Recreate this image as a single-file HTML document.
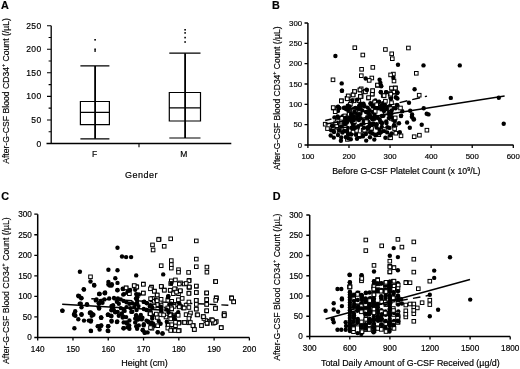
<!DOCTYPE html>
<html><head><meta charset="utf-8"><style>
html,body{margin:0;padding:0;background:#fff;}
svg{display:block;filter:grayscale(1);}
</style></head><body>
<svg width="520" height="369" viewBox="0 0 520 369">
<text x="1.1" y="8.8" font-size="10.8" font-weight="bold" font-family="'Liberation Sans', sans-serif" stroke="#000" stroke-width="0.18">A</text>
<path d="M51.2 25.7 V143.5 M46.5 143.5 H231.3" stroke="#000" stroke-width="1.3" fill="none"/>
<path d="M47 143.50 H51.2 M47 119.94 H51.2 M47 96.38 H51.2 M47 72.82 H51.2 M47 49.26 H51.2 M47 25.70 H51.2 M48.6 131.72 H51.2 M48.6 108.16 H51.2 M48.6 84.60 H51.2 M48.6 61.04 H51.2 M48.6 37.48 H51.2 M139 143.5 V147.2 " stroke="#000" stroke-width="1.1" fill="none"/>
<text x="41.6" y="146.60" font-size="8.5" letter-spacing="0.4" text-anchor="end" font-family="'Liberation Sans', sans-serif" stroke="#000" stroke-width="0.18" fill="#000">0</text>
<text x="41.6" y="123.04" font-size="8.5" letter-spacing="0.4" text-anchor="end" font-family="'Liberation Sans', sans-serif" stroke="#000" stroke-width="0.18" fill="#000">50</text>
<text x="41.6" y="99.48" font-size="8.5" letter-spacing="0.4" text-anchor="end" font-family="'Liberation Sans', sans-serif" stroke="#000" stroke-width="0.18" fill="#000">100</text>
<text x="41.6" y="75.92" font-size="8.5" letter-spacing="0.4" text-anchor="end" font-family="'Liberation Sans', sans-serif" stroke="#000" stroke-width="0.18" fill="#000">150</text>
<text x="41.6" y="52.36" font-size="8.5" letter-spacing="0.4" text-anchor="end" font-family="'Liberation Sans', sans-serif" stroke="#000" stroke-width="0.18" fill="#000">200</text>
<text x="41.6" y="28.80" font-size="8.5" letter-spacing="0.4" text-anchor="end" font-family="'Liberation Sans', sans-serif" stroke="#000" stroke-width="0.18" fill="#000">250</text>
<text x="94.5" y="156.8" font-size="8.5" text-anchor="middle" font-family="'Liberation Sans', sans-serif" stroke="#000" stroke-width="0.18" fill="#000">F</text>
<text x="183.8" y="156.8" font-size="8.5" text-anchor="middle" font-family="'Liberation Sans', sans-serif" stroke="#000" stroke-width="0.18" fill="#000">M</text>
<text x="141.5" y="177.6" font-size="9" letter-spacing="0.5" text-anchor="middle" font-family="'Liberation Sans', sans-serif" stroke="#000" stroke-width="0.18" fill="#000">Gender</text>
<path d="M80.4 101.5 H109.4 V124.6 H80.4 Z M80.4 112.4 H109.4 M80.4 138.8 H109.4 M80.4 65.9 H109.4" stroke="#000" stroke-width="1.2" fill="none"/>
<path d="M95.1 65.9 V138.8" stroke="#000" stroke-width="1.8" fill="none"/>
<rect x="94.3" y="39.0" width="1.6" height="1.6" fill="#000"/>
<rect x="94.3" y="48.5" width="1.6" height="1.6" fill="#000"/>
<rect x="94.3" y="50.2" width="1.6" height="1.6" fill="#000"/>
<path d="M169.3 92.5 H200.5 V121.0 H169.3 Z M169.3 107.8 H200.5 M169.3 138.0 H200.5 M169.3 53.2 H200.5" stroke="#000" stroke-width="1.2" fill="none"/>
<path d="M185.1 53.2 V138.0" stroke="#000" stroke-width="1.8" fill="none"/>
<rect x="184.29999999999998" y="29.0" width="1.6" height="1.6" fill="#000"/>
<rect x="184.29999999999998" y="32.1" width="1.6" height="1.6" fill="#000"/>
<rect x="184.29999999999998" y="36.800000000000004" width="1.6" height="1.6" fill="#000"/>
<rect x="184.29999999999998" y="41.2" width="1.6" height="1.6" fill="#000"/>
<text transform="translate(8.5 91.0) rotate(-90)" font-size="8.65" text-anchor="middle" font-family="'Liberation Sans', sans-serif" stroke="#000" stroke-width="0.18" fill="#000">After-G-CSF Blood CD34<tspan font-size="5.36" dy="-3.29">+</tspan><tspan dy="3.29"> Count (/µL)</tspan></text>
<text x="272" y="9" font-size="10.8" font-weight="bold" font-family="'Liberation Sans', sans-serif" stroke="#000" stroke-width="0.18">B</text>
<path d="M307.9 23 V145.0 H513.5" stroke="#000" stroke-width="1.5" fill="none"/>
<path d="M304.5 145.00 H307.9 M304.5 124.67 H307.9 M304.5 104.33 H307.9 M304.5 84.00 H307.9 M304.5 63.67 H307.9 M304.5 43.33 H307.9 M304.5 23.00 H307.9 M307.90 145.0 V148.0 M348.98 145.0 V148.0 M390.06 145.0 V148.0 M431.14 145.0 V148.0 M472.22 145.0 V148.0 M513.30 145.0 V148.0 " stroke="#000" stroke-width="1.3" fill="none"/>
<text x="302.09999999999997" y="147.80" font-size="7.8" text-anchor="end" font-family="'Liberation Sans', sans-serif" stroke="#000" stroke-width="0.18" fill="#000">0</text>
<text x="302.09999999999997" y="127.47" font-size="7.8" text-anchor="end" font-family="'Liberation Sans', sans-serif" stroke="#000" stroke-width="0.18" fill="#000">50</text>
<text x="302.09999999999997" y="107.13" font-size="7.8" text-anchor="end" font-family="'Liberation Sans', sans-serif" stroke="#000" stroke-width="0.18" fill="#000">100</text>
<text x="302.09999999999997" y="86.80" font-size="7.8" text-anchor="end" font-family="'Liberation Sans', sans-serif" stroke="#000" stroke-width="0.18" fill="#000">150</text>
<text x="302.09999999999997" y="66.47" font-size="7.8" text-anchor="end" font-family="'Liberation Sans', sans-serif" stroke="#000" stroke-width="0.18" fill="#000">200</text>
<text x="302.09999999999997" y="46.13" font-size="7.8" text-anchor="end" font-family="'Liberation Sans', sans-serif" stroke="#000" stroke-width="0.18" fill="#000">250</text>
<text x="302.09999999999997" y="25.80" font-size="7.8" text-anchor="end" font-family="'Liberation Sans', sans-serif" stroke="#000" stroke-width="0.18" fill="#000">300</text>
<text x="307.90" y="159.20" font-size="7.8" text-anchor="middle" font-family="'Liberation Sans', sans-serif" stroke="#000" stroke-width="0.18" fill="#000">100</text>
<text x="348.98" y="159.20" font-size="7.8" text-anchor="middle" font-family="'Liberation Sans', sans-serif" stroke="#000" stroke-width="0.18" fill="#000">200</text>
<text x="390.06" y="159.20" font-size="7.8" text-anchor="middle" font-family="'Liberation Sans', sans-serif" stroke="#000" stroke-width="0.18" fill="#000">300</text>
<text x="431.14" y="159.20" font-size="7.8" text-anchor="middle" font-family="'Liberation Sans', sans-serif" stroke="#000" stroke-width="0.18" fill="#000">400</text>
<text x="472.22" y="159.20" font-size="7.8" text-anchor="middle" font-family="'Liberation Sans', sans-serif" stroke="#000" stroke-width="0.18" fill="#000">500</text>
<text x="513.30" y="159.20" font-size="7.8" text-anchor="middle" font-family="'Liberation Sans', sans-serif" stroke="#000" stroke-width="0.18" fill="#000">600</text>
<text x="332.2" y="173.6" font-size="8.78" font-family="'Liberation Sans', sans-serif" stroke="#000" stroke-width="0.18" fill="#000">Before G-CSF Platelet Count (x 10<tspan font-size="5.5" dy="-3">9</tspan><tspan dy="3">/L)</tspan></text>
<text transform="translate(279.7 98.3) rotate(-90)" font-size="8.5" text-anchor="middle" font-family="'Liberation Sans', sans-serif" stroke="#000" stroke-width="0.18" fill="#000">After-G-CSF Blood CD34<tspan font-size="5.27" dy="-3.23">+</tspan><tspan dy="3.23"> Count (/µL)</tspan></text>
<path d="M325.2 120.5 L427 96.1" stroke="#000" stroke-width="1.4" stroke-dasharray="8 5" stroke-dashoffset="1.5" fill="none"/>
<circle cx="390.8" cy="98.8" r="2.2"/>
<rect x="417.40" y="93.40" width="3.6" height="3.6" fill="#fff" stroke="#000" stroke-width="1.0"/>
<rect x="361.40" y="128.50" width="3.6" height="3.6" fill="#fff" stroke="#000" stroke-width="1.0"/>
<circle cx="421.7" cy="124.8" r="2.2"/>
<circle cx="350.8" cy="139.2" r="2.2"/>
<circle cx="374.8" cy="107.0" r="2.2"/>
<rect x="389.90" y="52.00" width="3.6" height="3.6" fill="#fff" stroke="#000" stroke-width="1.0"/>
<rect x="377.00" y="132.90" width="3.6" height="3.6" fill="#fff" stroke="#000" stroke-width="1.0"/>
<circle cx="393.8" cy="126.3" r="2.2"/>
<rect x="344.80" y="106.60" width="3.6" height="3.6" fill="#fff" stroke="#000" stroke-width="1.0"/>
<circle cx="397.4" cy="98.5" r="2.2"/>
<rect x="351.30" y="93.00" width="3.6" height="3.6" fill="#fff" stroke="#000" stroke-width="1.0"/>
<circle cx="376.7" cy="105.8" r="2.2"/>
<rect x="391.30" y="117.40" width="3.6" height="3.6" fill="#fff" stroke="#000" stroke-width="1.0"/>
<circle cx="334.4" cy="117.4" r="2.2"/>
<circle cx="378.0" cy="108.3" r="2.2"/>
<circle cx="393.8" cy="108.1" r="2.2"/>
<circle cx="344.0" cy="121.4" r="2.2"/>
<circle cx="358.3" cy="126.1" r="2.2"/>
<rect x="347.30" y="112.60" width="3.6" height="3.6" fill="#fff" stroke="#000" stroke-width="1.0"/>
<circle cx="371.7" cy="129.4" r="2.2"/>
<circle cx="397.4" cy="92.4" r="2.2"/>
<circle cx="356.9" cy="118.4" r="2.2"/>
<rect x="392.00" y="90.50" width="3.6" height="3.6" fill="#fff" stroke="#000" stroke-width="1.0"/>
<circle cx="378.7" cy="133.4" r="2.2"/>
<circle cx="372.9" cy="124.1" r="2.2"/>
<circle cx="349.3" cy="117.8" r="2.2"/>
<rect x="359.80" y="67.50" width="3.6" height="3.6" fill="#fff" stroke="#000" stroke-width="1.0"/>
<circle cx="394.3" cy="120.4" r="2.2"/>
<circle cx="356.5" cy="117.5" r="2.2"/>
<rect x="339.70" y="99.00" width="3.6" height="3.6" fill="#fff" stroke="#000" stroke-width="1.0"/>
<rect x="359.40" y="94.70" width="3.6" height="3.6" fill="#fff" stroke="#000" stroke-width="1.0"/>
<circle cx="356.7" cy="113.8" r="2.2"/>
<rect x="370.50" y="92.40" width="3.6" height="3.6" fill="#fff" stroke="#000" stroke-width="1.0"/>
<circle cx="386.2" cy="121.5" r="2.2"/>
<circle cx="379.5" cy="129.4" r="2.2"/>
<rect x="369.70" y="126.50" width="3.6" height="3.6" fill="#fff" stroke="#000" stroke-width="1.0"/>
<circle cx="342.5" cy="117.0" r="2.2"/>
<rect x="392.00" y="90.00" width="3.6" height="3.6" fill="#fff" stroke="#000" stroke-width="1.0"/>
<circle cx="365.7" cy="78.5" r="2.2"/>
<circle cx="372.8" cy="112.0" r="2.2"/>
<rect x="352.00" y="99.00" width="3.6" height="3.6" fill="#fff" stroke="#000" stroke-width="1.0"/>
<circle cx="347.7" cy="105.8" r="2.2"/>
<circle cx="364.3" cy="120.6" r="2.2"/>
<rect x="387.90" y="135.90" width="3.6" height="3.6" fill="#fff" stroke="#000" stroke-width="1.0"/>
<circle cx="341.3" cy="137.5" r="2.2"/>
<circle cx="353.5" cy="110.6" r="2.2"/>
<circle cx="376.6" cy="127.6" r="2.2"/>
<circle cx="394.8" cy="120.9" r="2.2"/>
<rect x="352.50" y="89.70" width="3.6" height="3.6" fill="#fff" stroke="#000" stroke-width="1.0"/>
<circle cx="391.4" cy="114.0" r="2.2"/>
<circle cx="353.1" cy="127.7" r="2.2"/>
<circle cx="360.4" cy="113.8" r="2.2"/>
<circle cx="393.8" cy="118.9" r="2.2"/>
<circle cx="376.8" cy="105.3" r="2.2"/>
<rect x="388.80" y="136.00" width="3.6" height="3.6" fill="#fff" stroke="#000" stroke-width="1.0"/>
<circle cx="344.1" cy="108.0" r="2.2"/>
<rect x="352.80" y="89.70" width="3.6" height="3.6" fill="#fff" stroke="#000" stroke-width="1.0"/>
<rect x="358.60" y="94.60" width="3.6" height="3.6" fill="#fff" stroke="#000" stroke-width="1.0"/>
<rect x="391.60" y="72.30" width="3.6" height="3.6" fill="#fff" stroke="#000" stroke-width="1.0"/>
<circle cx="338.0" cy="106.8" r="2.2"/>
<rect x="357.00" y="99.00" width="3.6" height="3.6" fill="#fff" stroke="#000" stroke-width="1.0"/>
<circle cx="341.9" cy="90.8" r="2.2"/>
<circle cx="498.8" cy="97.8" r="2.2"/>
<circle cx="381.1" cy="132.1" r="2.2"/>
<rect x="343.20" y="123.40" width="3.6" height="3.6" fill="#fff" stroke="#000" stroke-width="1.0"/>
<circle cx="347.7" cy="128.0" r="2.2"/>
<circle cx="348.2" cy="119.7" r="2.2"/>
<rect x="382.00" y="94.00" width="3.6" height="3.6" fill="#fff" stroke="#000" stroke-width="1.0"/>
<circle cx="381.2" cy="85.9" r="2.2"/>
<rect x="394.00" y="131.40" width="3.6" height="3.6" fill="#fff" stroke="#000" stroke-width="1.0"/>
<circle cx="331.9" cy="125.9" r="2.2"/>
<rect x="346.30" y="94.40" width="3.6" height="3.6" fill="#fff" stroke="#000" stroke-width="1.0"/>
<circle cx="354.0" cy="123.2" r="2.2"/>
<rect x="358.20" y="88.20" width="3.6" height="3.6" fill="#fff" stroke="#000" stroke-width="1.0"/>
<circle cx="344.5" cy="124.3" r="2.2"/>
<circle cx="342.5" cy="116.5" r="2.2"/>
<rect x="389.70" y="100.90" width="3.6" height="3.6" fill="#fff" stroke="#000" stroke-width="1.0"/>
<circle cx="401.1" cy="115.6" r="2.2"/>
<rect x="392.80" y="126.80" width="3.6" height="3.6" fill="#fff" stroke="#000" stroke-width="1.0"/>
<circle cx="389.5" cy="115.2" r="2.2"/>
<circle cx="375.4" cy="100.4" r="2.2"/>
<circle cx="355.9" cy="134.7" r="2.2"/>
<circle cx="379.0" cy="101.7" r="2.2"/>
<circle cx="386.2" cy="92.3" r="2.2"/>
<rect x="347.20" y="108.60" width="3.6" height="3.6" fill="#fff" stroke="#000" stroke-width="1.0"/>
<circle cx="360.0" cy="136.7" r="2.2"/>
<circle cx="352.3" cy="128.1" r="2.2"/>
<circle cx="450.8" cy="97.9" r="2.2"/>
<circle cx="351.5" cy="114.6" r="2.2"/>
<circle cx="399.0" cy="123.3" r="2.2"/>
<circle cx="367.2" cy="120.1" r="2.2"/>
<circle cx="373.5" cy="123.5" r="2.2"/>
<circle cx="395.6" cy="108.3" r="2.2"/>
<circle cx="339.6" cy="108.1" r="2.2"/>
<rect x="375.50" y="83.60" width="3.6" height="3.6" fill="#fff" stroke="#000" stroke-width="1.0"/>
<rect x="389.40" y="116.60" width="3.6" height="3.6" fill="#fff" stroke="#000" stroke-width="1.0"/>
<circle cx="388.1" cy="112.7" r="2.2"/>
<rect x="370.40" y="92.20" width="3.6" height="3.6" fill="#fff" stroke="#000" stroke-width="1.0"/>
<rect x="388.80" y="94.20" width="3.6" height="3.6" fill="#fff" stroke="#000" stroke-width="1.0"/>
<circle cx="394.9" cy="125.3" r="2.2"/>
<circle cx="383.7" cy="107.6" r="2.2"/>
<circle cx="345.6" cy="120.9" r="2.2"/>
<circle cx="363.5" cy="103.7" r="2.2"/>
<circle cx="380.8" cy="92.0" r="2.2"/>
<circle cx="362.3" cy="110.4" r="2.2"/>
<circle cx="351.3" cy="113.4" r="2.2"/>
<circle cx="384.7" cy="105.7" r="2.2"/>
<circle cx="356.5" cy="118.5" r="2.2"/>
<circle cx="333.8" cy="137.6" r="2.2"/>
<rect x="388.40" y="91.80" width="3.6" height="3.6" fill="#fff" stroke="#000" stroke-width="1.0"/>
<circle cx="361.2" cy="124.6" r="2.2"/>
<circle cx="338.9" cy="108.0" r="2.2"/>
<circle cx="369.9" cy="115.8" r="2.2"/>
<circle cx="353.0" cy="124.4" r="2.2"/>
<circle cx="358.8" cy="115.1" r="2.2"/>
<circle cx="370.1" cy="123.7" r="2.2"/>
<circle cx="338.0" cy="110.9" r="2.2"/>
<circle cx="363.4" cy="104.8" r="2.2"/>
<circle cx="379.7" cy="119.4" r="2.2"/>
<circle cx="359.1" cy="106.0" r="2.2"/>
<circle cx="342.0" cy="90.7" r="2.2"/>
<rect x="425.10" y="128.40" width="3.6" height="3.6" fill="#fff" stroke="#000" stroke-width="1.0"/>
<circle cx="364.6" cy="106.3" r="2.2"/>
<rect x="370.00" y="76.20" width="3.6" height="3.6" fill="#fff" stroke="#000" stroke-width="1.0"/>
<circle cx="351.6" cy="121.7" r="2.2"/>
<circle cx="387.4" cy="127.2" r="2.2"/>
<circle cx="363.7" cy="120.9" r="2.2"/>
<circle cx="423.5" cy="65.4" r="2.2"/>
<circle cx="370.0" cy="124.7" r="2.2"/>
<rect x="345.20" y="96.50" width="3.6" height="3.6" fill="#fff" stroke="#000" stroke-width="1.0"/>
<circle cx="383.4" cy="115.8" r="2.2"/>
<rect x="393.40" y="123.00" width="3.6" height="3.6" fill="#fff" stroke="#000" stroke-width="1.0"/>
<circle cx="393.0" cy="118.2" r="2.2"/>
<rect x="349.40" y="99.40" width="3.6" height="3.6" fill="#fff" stroke="#000" stroke-width="1.0"/>
<rect x="406.60" y="46.20" width="3.6" height="3.6" fill="#fff" stroke="#000" stroke-width="1.0"/>
<circle cx="388.3" cy="109.6" r="2.2"/>
<circle cx="338.0" cy="135.0" r="2.2"/>
<rect x="352.50" y="119.90" width="3.6" height="3.6" fill="#fff" stroke="#000" stroke-width="1.0"/>
<rect x="334.90" y="122.70" width="3.6" height="3.6" fill="#fff" stroke="#000" stroke-width="1.0"/>
<circle cx="355.5" cy="108.0" r="2.2"/>
<circle cx="357.7" cy="128.0" r="2.2"/>
<rect x="367.40" y="78.60" width="3.6" height="3.6" fill="#fff" stroke="#000" stroke-width="1.0"/>
<circle cx="330.7" cy="135.5" r="2.2"/>
<circle cx="355.4" cy="108.1" r="2.2"/>
<circle cx="352.9" cy="120.8" r="2.2"/>
<circle cx="397.2" cy="92.8" r="2.2"/>
<rect x="414.50" y="71.50" width="3.6" height="3.6" fill="#fff" stroke="#000" stroke-width="1.0"/>
<rect x="340.90" y="127.80" width="3.6" height="3.6" fill="#fff" stroke="#000" stroke-width="1.0"/>
<circle cx="386.5" cy="123.1" r="2.2"/>
<circle cx="362.3" cy="135.3" r="2.2"/>
<circle cx="370.8" cy="104.0" r="2.2"/>
<circle cx="390.0" cy="106.2" r="2.2"/>
<circle cx="391.7" cy="133.5" r="2.2"/>
<rect x="393.60" y="86.10" width="3.6" height="3.6" fill="#fff" stroke="#000" stroke-width="1.0"/>
<rect x="357.50" y="132.90" width="3.6" height="3.6" fill="#fff" stroke="#000" stroke-width="1.0"/>
<rect x="335.30" y="121.60" width="3.6" height="3.6" fill="#fff" stroke="#000" stroke-width="1.0"/>
<circle cx="386.8" cy="109.8" r="2.2"/>
<rect x="370.90" y="89.00" width="3.6" height="3.6" fill="#fff" stroke="#000" stroke-width="1.0"/>
<circle cx="409.0" cy="102.8" r="2.2"/>
<circle cx="359.8" cy="112.0" r="2.2"/>
<circle cx="376.0" cy="125.2" r="2.2"/>
<circle cx="331.1" cy="130.2" r="2.2"/>
<rect x="399.20" y="134.00" width="3.6" height="3.6" fill="#fff" stroke="#000" stroke-width="1.0"/>
<circle cx="367.5" cy="127.4" r="2.2"/>
<circle cx="342.5" cy="132.6" r="2.2"/>
<circle cx="380.3" cy="122.1" r="2.2"/>
<circle cx="388.8" cy="118.1" r="2.2"/>
<rect x="417.60" y="133.40" width="3.6" height="3.6" fill="#fff" stroke="#000" stroke-width="1.0"/>
<circle cx="358.9" cy="120.1" r="2.2"/>
<rect x="342.30" y="114.90" width="3.6" height="3.6" fill="#fff" stroke="#000" stroke-width="1.0"/>
<circle cx="361.2" cy="105.9" r="2.2"/>
<circle cx="381.0" cy="105.8" r="2.2"/>
<circle cx="348.2" cy="134.3" r="2.2"/>
<circle cx="351.5" cy="127.7" r="2.2"/>
<circle cx="354.2" cy="108.6" r="2.2"/>
<rect x="343.10" y="114.10" width="3.6" height="3.6" fill="#fff" stroke="#000" stroke-width="1.0"/>
<circle cx="381.3" cy="109.4" r="2.2"/>
<circle cx="397.3" cy="92.7" r="2.2"/>
<circle cx="353.7" cy="119.9" r="2.2"/>
<rect x="345.60" y="137.60" width="3.6" height="3.6" fill="#fff" stroke="#000" stroke-width="1.0"/>
<circle cx="340.9" cy="140.8" r="2.2"/>
<circle cx="360.5" cy="118.3" r="2.2"/>
<rect x="337.30" y="129.30" width="3.6" height="3.6" fill="#fff" stroke="#000" stroke-width="1.0"/>
<circle cx="357.3" cy="99.6" r="2.2"/>
<circle cx="379.2" cy="101.9" r="2.2"/>
<circle cx="426.7" cy="113.8" r="2.2"/>
<circle cx="367.7" cy="107.6" r="2.2"/>
<circle cx="369.6" cy="110.3" r="2.2"/>
<circle cx="372.4" cy="119.2" r="2.2"/>
<rect x="361.70" y="89.70" width="3.6" height="3.6" fill="#fff" stroke="#000" stroke-width="1.0"/>
<circle cx="376.7" cy="124.2" r="2.2"/>
<circle cx="345.8" cy="117.8" r="2.2"/>
<circle cx="352.5" cy="109.4" r="2.2"/>
<circle cx="379.6" cy="79.8" r="2.2"/>
<rect x="335.40" y="125.50" width="3.6" height="3.6" fill="#fff" stroke="#000" stroke-width="1.0"/>
<rect x="343.20" y="127.60" width="3.6" height="3.6" fill="#fff" stroke="#000" stroke-width="1.0"/>
<circle cx="357.9" cy="108.9" r="2.2"/>
<circle cx="334.8" cy="125.1" r="2.2"/>
<circle cx="414.6" cy="89.3" r="2.2"/>
<rect x="354.70" y="128.70" width="3.6" height="3.6" fill="#fff" stroke="#000" stroke-width="1.0"/>
<circle cx="413.9" cy="119.3" r="2.2"/>
<rect x="363.10" y="89.70" width="3.6" height="3.6" fill="#fff" stroke="#000" stroke-width="1.0"/>
<circle cx="387.2" cy="132.4" r="2.2"/>
<circle cx="402.3" cy="111.3" r="2.2"/>
<rect x="412.40" y="134.90" width="3.6" height="3.6" fill="#fff" stroke="#000" stroke-width="1.0"/>
<circle cx="342.2" cy="117.8" r="2.2"/>
<rect x="323.40" y="122.40" width="3.6" height="3.6" fill="#fff" stroke="#000" stroke-width="1.0"/>
<circle cx="390.6" cy="117.3" r="2.2"/>
<circle cx="366.0" cy="112.1" r="2.2"/>
<circle cx="384.8" cy="104.5" r="2.2"/>
<circle cx="367.7" cy="112.7" r="2.2"/>
<circle cx="357.0" cy="138.7" r="2.2"/>
<circle cx="354.9" cy="127.1" r="2.2"/>
<circle cx="370.0" cy="137.2" r="2.2"/>
<circle cx="373.6" cy="106.2" r="2.2"/>
<circle cx="375.8" cy="134.7" r="2.2"/>
<circle cx="368.7" cy="112.7" r="2.2"/>
<circle cx="383.0" cy="103.1" r="2.2"/>
<circle cx="360.7" cy="109.7" r="2.2"/>
<circle cx="367.0" cy="129.3" r="2.2"/>
<circle cx="374.6" cy="116.6" r="2.2"/>
<rect x="331.20" y="78.00" width="3.6" height="3.6" fill="#fff" stroke="#000" stroke-width="1.0"/>
<rect x="388.80" y="73.10" width="3.6" height="3.6" fill="#fff" stroke="#000" stroke-width="1.0"/>
<circle cx="412.1" cy="116.8" r="2.2"/>
<rect x="393.40" y="116.10" width="3.6" height="3.6" fill="#fff" stroke="#000" stroke-width="1.0"/>
<rect x="390.00" y="86.70" width="3.6" height="3.6" fill="#fff" stroke="#000" stroke-width="1.0"/>
<circle cx="366.5" cy="89.7" r="2.2"/>
<circle cx="411.9" cy="116.7" r="2.2"/>
<circle cx="348.4" cy="110.1" r="2.2"/>
<circle cx="381.8" cy="127.0" r="2.2"/>
<circle cx="374.5" cy="101.5" r="2.2"/>
<circle cx="381.7" cy="122.5" r="2.2"/>
<rect x="358.60" y="94.70" width="3.6" height="3.6" fill="#fff" stroke="#000" stroke-width="1.0"/>
<rect x="357.30" y="110.90" width="3.6" height="3.6" fill="#fff" stroke="#000" stroke-width="1.0"/>
<circle cx="373.6" cy="103.4" r="2.2"/>
<circle cx="396.3" cy="97.6" r="2.2"/>
<circle cx="354.9" cy="127.9" r="2.2"/>
<circle cx="334.0" cy="132.1" r="2.2"/>
<circle cx="381.7" cy="108.1" r="2.2"/>
<rect x="351.70" y="109.20" width="3.6" height="3.6" fill="#fff" stroke="#000" stroke-width="1.0"/>
<circle cx="398.0" cy="64.8" r="2.2"/>
<rect x="363.60" y="90.10" width="3.6" height="3.6" fill="#fff" stroke="#000" stroke-width="1.0"/>
<circle cx="389.5" cy="127.9" r="2.2"/>
<circle cx="362.4" cy="105.3" r="2.2"/>
<rect x="381.40" y="93.40" width="3.6" height="3.6" fill="#fff" stroke="#000" stroke-width="1.0"/>
<rect x="334.00" y="124.60" width="3.6" height="3.6" fill="#fff" stroke="#000" stroke-width="1.0"/>
<circle cx="380.8" cy="92.3" r="2.2"/>
<circle cx="399.8" cy="132.3" r="2.2"/>
<circle cx="353.5" cy="116.3" r="2.2"/>
<circle cx="346.9" cy="122.6" r="2.2"/>
<circle cx="348.2" cy="138.3" r="2.2"/>
<rect x="339.80" y="116.50" width="3.6" height="3.6" fill="#fff" stroke="#000" stroke-width="1.0"/>
<circle cx="370.5" cy="103.2" r="2.2"/>
<circle cx="359.4" cy="114.1" r="2.2"/>
<circle cx="341.7" cy="83.4" r="2.2"/>
<rect x="351.60" y="113.80" width="3.6" height="3.6" fill="#fff" stroke="#000" stroke-width="1.0"/>
<rect x="392.20" y="79.20" width="3.6" height="3.6" fill="#fff" stroke="#000" stroke-width="1.0"/>
<rect x="375.70" y="83.20" width="3.6" height="3.6" fill="#fff" stroke="#000" stroke-width="1.0"/>
<circle cx="339.3" cy="130.2" r="2.2"/>
<circle cx="353.6" cy="116.3" r="2.2"/>
<circle cx="380.1" cy="132.8" r="2.2"/>
<rect x="335.00" y="123.90" width="3.6" height="3.6" fill="#fff" stroke="#000" stroke-width="1.0"/>
<circle cx="393.4" cy="77.7" r="2.2"/>
<circle cx="372.7" cy="106.4" r="2.2"/>
<circle cx="381.9" cy="116.0" r="2.2"/>
<circle cx="366.9" cy="90.0" r="2.2"/>
<rect x="389.70" y="86.30" width="3.6" height="3.6" fill="#fff" stroke="#000" stroke-width="1.0"/>
<rect x="382.30" y="93.80" width="3.6" height="3.6" fill="#fff" stroke="#000" stroke-width="1.0"/>
<rect x="351.30" y="93.20" width="3.6" height="3.6" fill="#fff" stroke="#000" stroke-width="1.0"/>
<circle cx="346.6" cy="109.2" r="2.2"/>
<circle cx="332.8" cy="125.7" r="2.2"/>
<circle cx="352.0" cy="119.9" r="2.2"/>
<rect x="363.60" y="129.40" width="3.6" height="3.6" fill="#fff" stroke="#000" stroke-width="1.0"/>
<circle cx="395.8" cy="97.3" r="2.2"/>
<circle cx="413.6" cy="119.4" r="2.2"/>
<circle cx="386.1" cy="92.1" r="2.2"/>
<rect x="373.40" y="109.60" width="3.6" height="3.6" fill="#fff" stroke="#000" stroke-width="1.0"/>
<rect x="359.50" y="73.90" width="3.6" height="3.6" fill="#fff" stroke="#000" stroke-width="1.0"/>
<rect x="331.70" y="106.30" width="3.6" height="3.6" fill="#fff" stroke="#000" stroke-width="1.0"/>
<circle cx="394.1" cy="125.2" r="2.2"/>
<rect x="339.50" y="99.10" width="3.6" height="3.6" fill="#fff" stroke="#000" stroke-width="1.0"/>
<circle cx="375.4" cy="135.2" r="2.2"/>
<circle cx="390.2" cy="135.3" r="2.2"/>
<circle cx="360.8" cy="104.1" r="2.2"/>
<circle cx="350.9" cy="120.0" r="2.2"/>
<circle cx="372.7" cy="133.5" r="2.2"/>
<rect x="383.60" y="99.40" width="3.6" height="3.6" fill="#fff" stroke="#000" stroke-width="1.0"/>
<circle cx="374.5" cy="118.8" r="2.2"/>
<circle cx="366.2" cy="140.6" r="2.2"/>
<rect x="333.40" y="109.90" width="3.6" height="3.6" fill="#fff" stroke="#000" stroke-width="1.0"/>
<circle cx="351.3" cy="114.7" r="2.2"/>
<circle cx="428.5" cy="114.4" r="2.2"/>
<circle cx="380.4" cy="83.0" r="2.2"/>
<rect x="362.70" y="128.40" width="3.6" height="3.6" fill="#fff" stroke="#000" stroke-width="1.0"/>
<rect x="383.60" y="47.70" width="3.6" height="3.6" fill="#fff" stroke="#000" stroke-width="1.0"/>
<circle cx="370.6" cy="132.5" r="2.2"/>
<circle cx="377.8" cy="117.9" r="2.2"/>
<circle cx="346.9" cy="131.0" r="2.2"/>
<circle cx="388.8" cy="107.8" r="2.2"/>
<rect x="372.90" y="100.20" width="3.6" height="3.6" fill="#fff" stroke="#000" stroke-width="1.0"/>
<rect x="371.00" y="65.60" width="3.6" height="3.6" fill="#fff" stroke="#000" stroke-width="1.0"/>
<rect x="383.60" y="110.50" width="3.6" height="3.6" fill="#fff" stroke="#000" stroke-width="1.0"/>
<circle cx="360.5" cy="103.8" r="2.2"/>
<circle cx="338.2" cy="117.5" r="2.2"/>
<circle cx="351.7" cy="133.4" r="2.2"/>
<rect x="370.80" y="88.90" width="3.6" height="3.6" fill="#fff" stroke="#000" stroke-width="1.0"/>
<circle cx="423.7" cy="108.3" r="2.2"/>
<circle cx="365.9" cy="134.0" r="2.2"/>
<circle cx="387.6" cy="107.7" r="2.2"/>
<circle cx="412.1" cy="114.4" r="2.2"/>
<rect x="359.40" y="87.00" width="3.6" height="3.6" fill="#fff" stroke="#000" stroke-width="1.0"/>
<circle cx="351.1" cy="117.7" r="2.2"/>
<rect x="348.60" y="102.40" width="3.6" height="3.6" fill="#fff" stroke="#000" stroke-width="1.0"/>
<circle cx="396.9" cy="105.0" r="2.2"/>
<circle cx="381.2" cy="86.2" r="2.2"/>
<rect x="335.60" y="119.30" width="3.6" height="3.6" fill="#fff" stroke="#000" stroke-width="1.0"/>
<rect x="366.70" y="96.30" width="3.6" height="3.6" fill="#fff" stroke="#000" stroke-width="1.0"/>
<circle cx="369.2" cy="126.4" r="2.2"/>
<rect x="353.00" y="45.90" width="3.6" height="3.6" fill="#fff" stroke="#000" stroke-width="1.0"/>
<circle cx="347.2" cy="131.8" r="2.2"/>
<rect x="351.20" y="130.30" width="3.6" height="3.6" fill="#fff" stroke="#000" stroke-width="1.0"/>
<circle cx="344.2" cy="107.7" r="2.2"/>
<rect x="389.00" y="92.40" width="3.6" height="3.6" fill="#fff" stroke="#000" stroke-width="1.0"/>
<rect x="346.50" y="94.10" width="3.6" height="3.6" fill="#fff" stroke="#000" stroke-width="1.0"/>
<rect x="382.60" y="127.70" width="3.6" height="3.6" fill="#fff" stroke="#000" stroke-width="1.0"/>
<circle cx="333.6" cy="131.0" r="2.2"/>
<rect x="333.90" y="121.10" width="3.6" height="3.6" fill="#fff" stroke="#000" stroke-width="1.0"/>
<circle cx="374.5" cy="114.8" r="2.2"/>
<circle cx="367.1" cy="119.8" r="2.2"/>
<circle cx="459.8" cy="65.4" r="2.2"/>
<circle cx="338.1" cy="106.9" r="2.2"/>
<circle cx="362.9" cy="136.4" r="2.2"/>
<circle cx="397.4" cy="105.2" r="2.2"/>
<circle cx="377.0" cy="116.9" r="2.2"/>
<circle cx="401.0" cy="116.0" r="2.2"/>
<circle cx="363.9" cy="127.7" r="2.2"/>
<circle cx="370.2" cy="132.2" r="2.2"/>
<rect x="398.70" y="106.20" width="3.6" height="3.6" fill="#fff" stroke="#000" stroke-width="1.0"/>
<rect x="393.60" y="86.30" width="3.6" height="3.6" fill="#fff" stroke="#000" stroke-width="1.0"/>
<circle cx="352.3" cy="100.4" r="2.2"/>
<circle cx="345.8" cy="137.1" r="2.2"/>
<circle cx="344.1" cy="131.0" r="2.2"/>
<circle cx="358.6" cy="114.5" r="2.2"/>
<circle cx="407.1" cy="122.5" r="2.2"/>
<rect x="361.00" y="53.20" width="3.6" height="3.6" fill="#fff" stroke="#000" stroke-width="1.0"/>
<circle cx="335.4" cy="56.0" r="2.2"/>
<circle cx="337.6" cy="116.5" r="2.2"/>
<circle cx="347.8" cy="106.0" r="2.2"/>
<circle cx="368.0" cy="128.0" r="2.2"/>
<circle cx="382.0" cy="123.2" r="2.2"/>
<circle cx="363.8" cy="123.2" r="2.2"/>
<rect x="325.70" y="126.80" width="3.6" height="3.6" fill="#fff" stroke="#000" stroke-width="1.0"/>
<rect x="366.80" y="95.80" width="3.6" height="3.6" fill="#fff" stroke="#000" stroke-width="1.0"/>
<rect x="343.20" y="123.90" width="3.6" height="3.6" fill="#fff" stroke="#000" stroke-width="1.0"/>
<circle cx="384.0" cy="111.0" r="2.2"/>
<circle cx="410.2" cy="110.7" r="2.2"/>
<rect x="345.50" y="97.00" width="3.6" height="3.6" fill="#fff" stroke="#000" stroke-width="1.0"/>
<rect x="374.90" y="102.90" width="3.6" height="3.6" fill="#fff" stroke="#000" stroke-width="1.0"/>
<circle cx="409.8" cy="127.7" r="2.2"/>
<rect x="390.50" y="56.90" width="3.6" height="3.6" fill="#fff" stroke="#000" stroke-width="1.0"/>
<circle cx="350.9" cy="119.1" r="2.2"/>
<circle cx="370.6" cy="117.2" r="2.2"/>
<circle cx="391.0" cy="98.5" r="2.2"/>
<rect x="388.80" y="106.90" width="3.6" height="3.6" fill="#fff" stroke="#000" stroke-width="1.0"/>
<circle cx="354.4" cy="111.7" r="2.2"/>
<circle cx="374.3" cy="139.6" r="2.2"/>
<circle cx="351.2" cy="134.5" r="2.2"/>
<circle cx="367.1" cy="117.3" r="2.2"/>
<rect x="331.40" y="105.80" width="3.6" height="3.6" fill="#fff" stroke="#000" stroke-width="1.0"/>
<rect x="339.10" y="123.10" width="3.6" height="3.6" fill="#fff" stroke="#000" stroke-width="1.0"/>
<rect x="358.20" y="88.10" width="3.6" height="3.6" fill="#fff" stroke="#000" stroke-width="1.0"/>
<circle cx="344.9" cy="124.4" r="2.2"/>
<circle cx="385.4" cy="137.7" r="2.2"/>
<circle cx="391.7" cy="110.5" r="2.2"/>
<circle cx="503.7" cy="123.8" r="2.2"/>
<circle cx="349.6" cy="106.5" r="2.2"/>
<circle cx="341.1" cy="126.4" r="2.2"/>
<circle cx="368.4" cy="121.9" r="2.2"/>
<rect x="364.60" y="119.90" width="3.6" height="3.6" fill="#fff" stroke="#000" stroke-width="1.0"/>
<circle cx="369.7" cy="114.9" r="2.2"/>
<circle cx="348.4" cy="134.3" r="2.2"/>
<circle cx="384.0" cy="131.1" r="2.2"/>
<path d="M325.5 124 L504.6 96" stroke="#000" stroke-width="1.4" fill="none"/>
<text x="1.2" y="199.8" font-size="10.8" font-weight="bold" font-family="'Liberation Sans', sans-serif" stroke="#000" stroke-width="0.18">C</text>
<path d="M37.7 214.2 V337.5 H249.4" stroke="#000" stroke-width="1.5" fill="none"/>
<path d="M34.300000000000004 337.50 H37.7 M34.300000000000004 316.95 H37.7 M34.300000000000004 296.40 H37.7 M34.300000000000004 275.85 H37.7 M34.300000000000004 255.30 H37.7 M34.300000000000004 234.75 H37.7 M34.300000000000004 214.20 H37.7 M37.70 337.5 V340.5 M72.98 337.5 V340.5 M108.26 337.5 V340.5 M143.54 337.5 V340.5 M178.82 337.5 V340.5 M214.10 337.5 V340.5 M249.38 337.5 V340.5 " stroke="#000" stroke-width="1.3" fill="none"/>
<text x="31.900000000000002" y="340.30" font-size="8.2" text-anchor="end" font-family="'Liberation Sans', sans-serif" stroke="#000" stroke-width="0.18" fill="#000">0</text>
<text x="31.900000000000002" y="319.75" font-size="8.2" text-anchor="end" font-family="'Liberation Sans', sans-serif" stroke="#000" stroke-width="0.18" fill="#000">50</text>
<text x="31.900000000000002" y="299.20" font-size="8.2" text-anchor="end" font-family="'Liberation Sans', sans-serif" stroke="#000" stroke-width="0.18" fill="#000">100</text>
<text x="31.900000000000002" y="278.65" font-size="8.2" text-anchor="end" font-family="'Liberation Sans', sans-serif" stroke="#000" stroke-width="0.18" fill="#000">150</text>
<text x="31.900000000000002" y="258.10" font-size="8.2" text-anchor="end" font-family="'Liberation Sans', sans-serif" stroke="#000" stroke-width="0.18" fill="#000">200</text>
<text x="31.900000000000002" y="237.55" font-size="8.2" text-anchor="end" font-family="'Liberation Sans', sans-serif" stroke="#000" stroke-width="0.18" fill="#000">250</text>
<text x="31.900000000000002" y="217.00" font-size="8.2" text-anchor="end" font-family="'Liberation Sans', sans-serif" stroke="#000" stroke-width="0.18" fill="#000">300</text>
<text x="37.70" y="351.70" font-size="8.2" text-anchor="middle" font-family="'Liberation Sans', sans-serif" stroke="#000" stroke-width="0.18" fill="#000">140</text>
<text x="72.98" y="351.70" font-size="8.2" text-anchor="middle" font-family="'Liberation Sans', sans-serif" stroke="#000" stroke-width="0.18" fill="#000">150</text>
<text x="108.26" y="351.70" font-size="8.2" text-anchor="middle" font-family="'Liberation Sans', sans-serif" stroke="#000" stroke-width="0.18" fill="#000">160</text>
<text x="143.54" y="351.70" font-size="8.2" text-anchor="middle" font-family="'Liberation Sans', sans-serif" stroke="#000" stroke-width="0.18" fill="#000">170</text>
<text x="178.82" y="351.70" font-size="8.2" text-anchor="middle" font-family="'Liberation Sans', sans-serif" stroke="#000" stroke-width="0.18" fill="#000">180</text>
<text x="214.10" y="351.70" font-size="8.2" text-anchor="middle" font-family="'Liberation Sans', sans-serif" stroke="#000" stroke-width="0.18" fill="#000">190</text>
<text x="249.38" y="351.70" font-size="8.2" text-anchor="middle" font-family="'Liberation Sans', sans-serif" stroke="#000" stroke-width="0.18" fill="#000">200</text>
<text x="121.3" y="366.2" font-size="9.0" font-family="'Liberation Sans', sans-serif" stroke="#000" stroke-width="0.18" fill="#000">Height (cm)</text>
<text transform="translate(8.5 290.6) rotate(-90)" font-size="8.7" text-anchor="middle" font-family="'Liberation Sans', sans-serif" stroke="#000" stroke-width="0.18" fill="#000">After-G-CSF Blood CD34<tspan font-size="5.39" dy="-3.31">+</tspan><tspan dy="3.31"> Count (/µL)</tspan></text>
<path d="M91.3 298.7 L228.4 305.2" stroke="#000" stroke-width="1.4" stroke-dasharray="7 5" stroke-dashoffset="1.8" fill="none"/>
<rect x="192.40" y="327.80" width="3.6" height="3.6" fill="#fff" stroke="#000" stroke-width="1.0"/>
<rect x="214.30" y="296.00" width="3.6" height="3.6" fill="#fff" stroke="#000" stroke-width="1.0"/>
<rect x="169.50" y="279.10" width="3.6" height="3.6" fill="#fff" stroke="#000" stroke-width="1.0"/>
<circle cx="137.1" cy="303.3" r="2.2"/>
<circle cx="91.0" cy="320.5" r="2.2"/>
<rect x="159.80" y="285.00" width="3.6" height="3.6" fill="#fff" stroke="#000" stroke-width="1.0"/>
<circle cx="117.3" cy="321.5" r="2.2"/>
<circle cx="111.5" cy="320.6" r="2.2"/>
<circle cx="111.5" cy="316.0" r="2.2"/>
<rect x="172.70" y="313.30" width="3.6" height="3.6" fill="#fff" stroke="#000" stroke-width="1.0"/>
<circle cx="135.2" cy="304.2" r="2.2"/>
<rect x="152.70" y="289.30" width="3.6" height="3.6" fill="#fff" stroke="#000" stroke-width="1.0"/>
<rect x="173.60" y="278.10" width="3.6" height="3.6" fill="#fff" stroke="#000" stroke-width="1.0"/>
<circle cx="169.3" cy="304.8" r="2.2"/>
<rect x="205.20" y="319.40" width="3.6" height="3.6" fill="#fff" stroke="#000" stroke-width="1.0"/>
<circle cx="127.3" cy="292.7" r="2.2"/>
<rect x="213.60" y="279.70" width="3.6" height="3.6" fill="#fff" stroke="#000" stroke-width="1.0"/>
<circle cx="81.5" cy="314.8" r="2.2"/>
<circle cx="142.8" cy="330.0" r="2.2"/>
<circle cx="143.7" cy="325.4" r="2.2"/>
<circle cx="78.3" cy="295.6" r="2.2"/>
<circle cx="108.1" cy="314.8" r="2.2"/>
<circle cx="126.1" cy="257.1" r="2.2"/>
<circle cx="101.1" cy="317.5" r="2.2"/>
<rect x="205.10" y="265.30" width="3.6" height="3.6" fill="#fff" stroke="#000" stroke-width="1.0"/>
<circle cx="83.7" cy="289.2" r="2.2"/>
<circle cx="128.1" cy="291.1" r="2.2"/>
<rect x="157.30" y="237.40" width="3.6" height="3.6" fill="#fff" stroke="#000" stroke-width="1.0"/>
<circle cx="127.5" cy="327.2" r="2.2"/>
<circle cx="144.7" cy="332.9" r="2.2"/>
<rect x="156.80" y="237.80" width="3.6" height="3.6" fill="#fff" stroke="#000" stroke-width="1.0"/>
<circle cx="91.0" cy="312.8" r="2.2"/>
<rect x="213.90" y="306.20" width="3.6" height="3.6" fill="#fff" stroke="#000" stroke-width="1.0"/>
<circle cx="62.3" cy="310.6" r="2.2"/>
<circle cx="123.7" cy="310.0" r="2.2"/>
<circle cx="120.8" cy="308.1" r="2.2"/>
<circle cx="99.1" cy="308.5" r="2.2"/>
<rect x="159.30" y="303.30" width="3.6" height="3.6" fill="#fff" stroke="#000" stroke-width="1.0"/>
<rect x="229.50" y="296.00" width="3.6" height="3.6" fill="#fff" stroke="#000" stroke-width="1.0"/>
<circle cx="123.5" cy="328.3" r="2.2"/>
<rect x="178.70" y="281.10" width="3.6" height="3.6" fill="#fff" stroke="#000" stroke-width="1.0"/>
<circle cx="149.8" cy="306.4" r="2.2"/>
<rect x="166.00" y="322.90" width="3.6" height="3.6" fill="#fff" stroke="#000" stroke-width="1.0"/>
<rect x="194.50" y="302.60" width="3.6" height="3.6" fill="#fff" stroke="#000" stroke-width="1.0"/>
<circle cx="91.0" cy="331.1" r="2.2"/>
<circle cx="126.5" cy="307.1" r="2.2"/>
<rect x="219.40" y="325.70" width="3.6" height="3.6" fill="#fff" stroke="#000" stroke-width="1.0"/>
<rect x="201.30" y="314.70" width="3.6" height="3.6" fill="#fff" stroke="#000" stroke-width="1.0"/>
<rect x="168.50" y="288.60" width="3.6" height="3.6" fill="#fff" stroke="#000" stroke-width="1.0"/>
<rect x="170.70" y="303.80" width="3.6" height="3.6" fill="#fff" stroke="#000" stroke-width="1.0"/>
<rect x="169.50" y="258.80" width="3.6" height="3.6" fill="#fff" stroke="#000" stroke-width="1.0"/>
<circle cx="115.3" cy="278.3" r="2.2"/>
<rect x="211.50" y="321.40" width="3.6" height="3.6" fill="#fff" stroke="#000" stroke-width="1.0"/>
<circle cx="87.1" cy="304.8" r="2.2"/>
<circle cx="162.5" cy="333.4" r="2.2"/>
<rect x="173.60" y="287.20" width="3.6" height="3.6" fill="#fff" stroke="#000" stroke-width="1.0"/>
<circle cx="154.6" cy="300.3" r="2.2"/>
<rect x="175.60" y="303.00" width="3.6" height="3.6" fill="#fff" stroke="#000" stroke-width="1.0"/>
<rect x="149.50" y="325.50" width="3.6" height="3.6" fill="#fff" stroke="#000" stroke-width="1.0"/>
<rect x="204.00" y="318.80" width="3.6" height="3.6" fill="#fff" stroke="#000" stroke-width="1.0"/>
<rect x="168.90" y="281.70" width="3.6" height="3.6" fill="#fff" stroke="#000" stroke-width="1.0"/>
<circle cx="101.1" cy="317.6" r="2.2"/>
<circle cx="136.2" cy="326.3" r="2.2"/>
<rect x="205.10" y="270.40" width="3.6" height="3.6" fill="#fff" stroke="#000" stroke-width="1.0"/>
<circle cx="75.2" cy="311.3" r="2.2"/>
<circle cx="111.9" cy="306.2" r="2.2"/>
<circle cx="79.9" cy="271.7" r="2.2"/>
<circle cx="174.1" cy="316.1" r="2.2"/>
<circle cx="111.8" cy="284.3" r="2.2"/>
<rect x="182.40" y="320.50" width="3.6" height="3.6" fill="#fff" stroke="#000" stroke-width="1.0"/>
<circle cx="153.8" cy="326.3" r="2.2"/>
<rect x="187.40" y="278.50" width="3.6" height="3.6" fill="#fff" stroke="#000" stroke-width="1.0"/>
<circle cx="138.1" cy="319.5" r="2.2"/>
<circle cx="121.5" cy="313.8" r="2.2"/>
<circle cx="98.8" cy="307.3" r="2.2"/>
<circle cx="139.0" cy="317.5" r="2.2"/>
<circle cx="99.4" cy="303.3" r="2.2"/>
<rect x="184.30" y="303.30" width="3.6" height="3.6" fill="#fff" stroke="#000" stroke-width="1.0"/>
<rect x="199.70" y="323.60" width="3.6" height="3.6" fill="#fff" stroke="#000" stroke-width="1.0"/>
<circle cx="136.9" cy="319.6" r="2.2"/>
<circle cx="78.6" cy="296.3" r="2.2"/>
<circle cx="115.0" cy="311.9" r="2.2"/>
<rect x="192.60" y="327.70" width="3.6" height="3.6" fill="#fff" stroke="#000" stroke-width="1.0"/>
<rect x="176.70" y="291.90" width="3.6" height="3.6" fill="#fff" stroke="#000" stroke-width="1.0"/>
<circle cx="86.9" cy="304.2" r="2.2"/>
<circle cx="135.2" cy="318.6" r="2.2"/>
<rect x="132.40" y="284.20" width="3.6" height="3.6" fill="#fff" stroke="#000" stroke-width="1.0"/>
<circle cx="75.4" cy="315.8" r="2.2"/>
<circle cx="117.4" cy="290.3" r="2.2"/>
<circle cx="157.7" cy="332.4" r="2.2"/>
<rect x="194.50" y="264.90" width="3.6" height="3.6" fill="#fff" stroke="#000" stroke-width="1.0"/>
<circle cx="152.4" cy="316.5" r="2.2"/>
<circle cx="171.3" cy="283.5" r="2.2"/>
<rect x="194.50" y="290.80" width="3.6" height="3.6" fill="#fff" stroke="#000" stroke-width="1.0"/>
<circle cx="90.2" cy="312.5" r="2.2"/>
<circle cx="137.1" cy="328.7" r="2.2"/>
<circle cx="147.1" cy="303.2" r="2.2"/>
<circle cx="95.8" cy="300.4" r="2.2"/>
<rect x="222.20" y="312.00" width="3.6" height="3.6" fill="#fff" stroke="#000" stroke-width="1.0"/>
<rect x="164.20" y="315.20" width="3.6" height="3.6" fill="#fff" stroke="#000" stroke-width="1.0"/>
<circle cx="162.5" cy="333.5" r="2.2"/>
<circle cx="111.6" cy="285.5" r="2.2"/>
<rect x="151.30" y="248.20" width="3.6" height="3.6" fill="#fff" stroke="#000" stroke-width="1.0"/>
<circle cx="168.3" cy="296.5" r="2.2"/>
<circle cx="153.4" cy="300.3" r="2.2"/>
<circle cx="123.0" cy="289.0" r="2.2"/>
<rect x="166.00" y="298.50" width="3.6" height="3.6" fill="#fff" stroke="#000" stroke-width="1.0"/>
<rect x="155.90" y="323.90" width="3.6" height="3.6" fill="#fff" stroke="#000" stroke-width="1.0"/>
<circle cx="107.8" cy="314.7" r="2.2"/>
<circle cx="90.8" cy="321.5" r="2.2"/>
<circle cx="126.3" cy="322.5" r="2.2"/>
<circle cx="109.2" cy="298.5" r="2.2"/>
<rect x="219.40" y="325.90" width="3.6" height="3.6" fill="#fff" stroke="#000" stroke-width="1.0"/>
<rect x="155.30" y="303.80" width="3.6" height="3.6" fill="#fff" stroke="#000" stroke-width="1.0"/>
<rect x="173.70" y="323.90" width="3.6" height="3.6" fill="#fff" stroke="#000" stroke-width="1.0"/>
<circle cx="144.3" cy="301.8" r="2.2"/>
<circle cx="134.2" cy="307.1" r="2.2"/>
<circle cx="161.1" cy="310.8" r="2.2"/>
<circle cx="153.4" cy="324.2" r="2.2"/>
<circle cx="144.6" cy="332.1" r="2.2"/>
<rect x="195.30" y="313.00" width="3.6" height="3.6" fill="#fff" stroke="#000" stroke-width="1.0"/>
<circle cx="117.9" cy="298.5" r="2.2"/>
<rect x="187.60" y="285.50" width="3.6" height="3.6" fill="#fff" stroke="#000" stroke-width="1.0"/>
<circle cx="150.5" cy="305.1" r="2.2"/>
<circle cx="91.7" cy="315.8" r="2.2"/>
<circle cx="161.5" cy="312.5" r="2.2"/>
<rect x="222.50" y="312.00" width="3.6" height="3.6" fill="#fff" stroke="#000" stroke-width="1.0"/>
<rect x="175.60" y="312.80" width="3.6" height="3.6" fill="#fff" stroke="#000" stroke-width="1.0"/>
<circle cx="89.8" cy="312.9" r="2.2"/>
<rect x="168.30" y="307.00" width="3.6" height="3.6" fill="#fff" stroke="#000" stroke-width="1.0"/>
<circle cx="122.7" cy="288.8" r="2.2"/>
<rect x="204.90" y="302.40" width="3.6" height="3.6" fill="#fff" stroke="#000" stroke-width="1.0"/>
<circle cx="146.5" cy="320.6" r="2.2"/>
<circle cx="135.2" cy="289.8" r="2.2"/>
<circle cx="136.2" cy="294.1" r="2.2"/>
<rect x="188.70" y="311.20" width="3.6" height="3.6" fill="#fff" stroke="#000" stroke-width="1.0"/>
<rect x="150.70" y="243.10" width="3.6" height="3.6" fill="#fff" stroke="#000" stroke-width="1.0"/>
<rect x="194.50" y="239.10" width="3.6" height="3.6" fill="#fff" stroke="#000" stroke-width="1.0"/>
<circle cx="112.1" cy="309.0" r="2.2"/>
<circle cx="84.0" cy="320.6" r="2.2"/>
<circle cx="179.3" cy="303.2" r="2.2"/>
<circle cx="163.2" cy="274.4" r="2.2"/>
<circle cx="108.4" cy="284.6" r="2.2"/>
<rect x="205.50" y="321.70" width="3.6" height="3.6" fill="#fff" stroke="#000" stroke-width="1.0"/>
<rect x="177.50" y="282.20" width="3.6" height="3.6" fill="#fff" stroke="#000" stroke-width="1.0"/>
<rect x="168.90" y="312.80" width="3.6" height="3.6" fill="#fff" stroke="#000" stroke-width="1.0"/>
<rect x="159.40" y="263.90" width="3.6" height="3.6" fill="#fff" stroke="#000" stroke-width="1.0"/>
<rect x="191.50" y="323.60" width="3.6" height="3.6" fill="#fff" stroke="#000" stroke-width="1.0"/>
<rect x="168.40" y="288.40" width="3.6" height="3.6" fill="#fff" stroke="#000" stroke-width="1.0"/>
<rect x="213.90" y="279.80" width="3.6" height="3.6" fill="#fff" stroke="#000" stroke-width="1.0"/>
<rect x="158.80" y="312.80" width="3.6" height="3.6" fill="#fff" stroke="#000" stroke-width="1.0"/>
<rect x="134.80" y="285.10" width="3.6" height="3.6" fill="#fff" stroke="#000" stroke-width="1.0"/>
<rect x="166.50" y="323.60" width="3.6" height="3.6" fill="#fff" stroke="#000" stroke-width="1.0"/>
<circle cx="104.6" cy="293.1" r="2.2"/>
<rect x="134.20" y="285.10" width="3.6" height="3.6" fill="#fff" stroke="#000" stroke-width="1.0"/>
<circle cx="123.5" cy="316.7" r="2.2"/>
<circle cx="138.8" cy="325.4" r="2.2"/>
<circle cx="173.6" cy="318.5" r="2.2"/>
<rect x="194.50" y="290.70" width="3.6" height="3.6" fill="#fff" stroke="#000" stroke-width="1.0"/>
<rect x="231.90" y="299.90" width="3.6" height="3.6" fill="#fff" stroke="#000" stroke-width="1.0"/>
<rect x="150.60" y="296.60" width="3.6" height="3.6" fill="#fff" stroke="#000" stroke-width="1.0"/>
<circle cx="104.9" cy="293.2" r="2.2"/>
<rect x="202.10" y="316.70" width="3.6" height="3.6" fill="#fff" stroke="#000" stroke-width="1.0"/>
<circle cx="98.7" cy="303.3" r="2.2"/>
<rect x="155.30" y="293.30" width="3.6" height="3.6" fill="#fff" stroke="#000" stroke-width="1.0"/>
<circle cx="90.8" cy="330.8" r="2.2"/>
<circle cx="127.0" cy="323.4" r="2.2"/>
<circle cx="84.0" cy="289.6" r="2.2"/>
<circle cx="153.4" cy="325.7" r="2.2"/>
<circle cx="132.3" cy="303.3" r="2.2"/>
<rect x="184.30" y="312.80" width="3.6" height="3.6" fill="#fff" stroke="#000" stroke-width="1.0"/>
<rect x="194.40" y="307.20" width="3.6" height="3.6" fill="#fff" stroke="#000" stroke-width="1.0"/>
<rect x="177.50" y="320.50" width="3.6" height="3.6" fill="#fff" stroke="#000" stroke-width="1.0"/>
<circle cx="81.5" cy="314.2" r="2.2"/>
<circle cx="111.6" cy="321.5" r="2.2"/>
<circle cx="136.0" cy="298.5" r="2.2"/>
<circle cx="159.9" cy="306.4" r="2.2"/>
<circle cx="137.2" cy="297.2" r="2.2"/>
<circle cx="136.2" cy="315.2" r="2.2"/>
<rect x="88.70" y="275.00" width="3.6" height="3.6" fill="#fff" stroke="#000" stroke-width="1.0"/>
<circle cx="92.5" cy="314.2" r="2.2"/>
<circle cx="97.7" cy="326.3" r="2.2"/>
<rect x="172.70" y="287.00" width="3.6" height="3.6" fill="#fff" stroke="#000" stroke-width="1.0"/>
<rect x="150.10" y="326.50" width="3.6" height="3.6" fill="#fff" stroke="#000" stroke-width="1.0"/>
<rect x="178.70" y="289.30" width="3.6" height="3.6" fill="#fff" stroke="#000" stroke-width="1.0"/>
<rect x="187.10" y="285.30" width="3.6" height="3.6" fill="#fff" stroke="#000" stroke-width="1.0"/>
<rect x="177.00" y="321.30" width="3.6" height="3.6" fill="#fff" stroke="#000" stroke-width="1.0"/>
<rect x="172.30" y="304.60" width="3.6" height="3.6" fill="#fff" stroke="#000" stroke-width="1.0"/>
<rect x="124.30" y="286.20" width="3.6" height="3.6" fill="#fff" stroke="#000" stroke-width="1.0"/>
<circle cx="146.7" cy="309.9" r="2.2"/>
<rect x="149.70" y="285.20" width="3.6" height="3.6" fill="#fff" stroke="#000" stroke-width="1.0"/>
<rect x="222.20" y="314.00" width="3.6" height="3.6" fill="#fff" stroke="#000" stroke-width="1.0"/>
<circle cx="108.1" cy="314.8" r="2.2"/>
<circle cx="111.6" cy="309.9" r="2.2"/>
<rect x="168.40" y="327.00" width="3.6" height="3.6" fill="#fff" stroke="#000" stroke-width="1.0"/>
<circle cx="99.6" cy="294.1" r="2.2"/>
<rect x="229.60" y="296.30" width="3.6" height="3.6" fill="#fff" stroke="#000" stroke-width="1.0"/>
<circle cx="136.0" cy="315.8" r="2.2"/>
<circle cx="142.7" cy="330.2" r="2.2"/>
<rect x="204.90" y="302.60" width="3.6" height="3.6" fill="#fff" stroke="#000" stroke-width="1.0"/>
<rect x="155.40" y="302.80" width="3.6" height="3.6" fill="#fff" stroke="#000" stroke-width="1.0"/>
<rect x="135.00" y="285.20" width="3.6" height="3.6" fill="#fff" stroke="#000" stroke-width="1.0"/>
<rect x="194.50" y="284.50" width="3.6" height="3.6" fill="#fff" stroke="#000" stroke-width="1.0"/>
<circle cx="124.0" cy="294.1" r="2.2"/>
<rect x="199.70" y="323.80" width="3.6" height="3.6" fill="#fff" stroke="#000" stroke-width="1.0"/>
<circle cx="129.4" cy="320.5" r="2.2"/>
<rect x="168.30" y="313.10" width="3.6" height="3.6" fill="#fff" stroke="#000" stroke-width="1.0"/>
<circle cx="79.3" cy="296.1" r="2.2"/>
<circle cx="80.8" cy="303.8" r="2.2"/>
<circle cx="181.3" cy="306.1" r="2.2"/>
<rect x="194.50" y="284.20" width="3.6" height="3.6" fill="#fff" stroke="#000" stroke-width="1.0"/>
<rect x="172.20" y="328.40" width="3.6" height="3.6" fill="#fff" stroke="#000" stroke-width="1.0"/>
<rect x="149.70" y="285.50" width="3.6" height="3.6" fill="#fff" stroke="#000" stroke-width="1.0"/>
<circle cx="81.3" cy="298.2" r="2.2"/>
<circle cx="101.1" cy="325.8" r="2.2"/>
<circle cx="99.6" cy="329.6" r="2.2"/>
<rect x="132.40" y="283.80" width="3.6" height="3.6" fill="#fff" stroke="#000" stroke-width="1.0"/>
<rect x="177.50" y="328.70" width="3.6" height="3.6" fill="#fff" stroke="#000" stroke-width="1.0"/>
<circle cx="140.8" cy="318.7" r="2.2"/>
<circle cx="117.5" cy="290.0" r="2.2"/>
<rect x="181.40" y="306.10" width="3.6" height="3.6" fill="#fff" stroke="#000" stroke-width="1.0"/>
<rect x="204.90" y="297.60" width="3.6" height="3.6" fill="#fff" stroke="#000" stroke-width="1.0"/>
<circle cx="120.8" cy="299.4" r="2.2"/>
<circle cx="104.4" cy="299.4" r="2.2"/>
<circle cx="137.1" cy="300.4" r="2.2"/>
<circle cx="114.0" cy="298.0" r="2.2"/>
<circle cx="117.7" cy="311.9" r="2.2"/>
<circle cx="131.1" cy="257.1" r="2.2"/>
<rect x="182.80" y="320.70" width="3.6" height="3.6" fill="#fff" stroke="#000" stroke-width="1.0"/>
<rect x="171.60" y="291.90" width="3.6" height="3.6" fill="#fff" stroke="#000" stroke-width="1.0"/>
<rect x="148.00" y="311.90" width="3.6" height="3.6" fill="#fff" stroke="#000" stroke-width="1.0"/>
<circle cx="141.8" cy="319.4" r="2.2"/>
<circle cx="136.2" cy="275.4" r="2.2"/>
<rect x="214.50" y="319.70" width="3.6" height="3.6" fill="#fff" stroke="#000" stroke-width="1.0"/>
<rect x="182.40" y="306.20" width="3.6" height="3.6" fill="#fff" stroke="#000" stroke-width="1.0"/>
<circle cx="150.4" cy="323.5" r="2.2"/>
<circle cx="74.4" cy="328.3" r="2.2"/>
<rect x="173.20" y="328.70" width="3.6" height="3.6" fill="#fff" stroke="#000" stroke-width="1.0"/>
<circle cx="111.5" cy="310.2" r="2.2"/>
<circle cx="74.0" cy="314.8" r="2.2"/>
<rect x="141.50" y="291.30" width="3.6" height="3.6" fill="#fff" stroke="#000" stroke-width="1.0"/>
<rect x="201.70" y="314.90" width="3.6" height="3.6" fill="#fff" stroke="#000" stroke-width="1.0"/>
<circle cx="137.1" cy="294.6" r="2.2"/>
<rect x="141.50" y="291.30" width="3.6" height="3.6" fill="#fff" stroke="#000" stroke-width="1.0"/>
<circle cx="94.1" cy="285.0" r="2.2"/>
<rect x="169.50" y="266.30" width="3.6" height="3.6" fill="#fff" stroke="#000" stroke-width="1.0"/>
<rect x="204.90" y="297.90" width="3.6" height="3.6" fill="#fff" stroke="#000" stroke-width="1.0"/>
<circle cx="118.8" cy="315.7" r="2.2"/>
<circle cx="129.2" cy="325.4" r="2.2"/>
<rect x="169.90" y="322.90" width="3.6" height="3.6" fill="#fff" stroke="#000" stroke-width="1.0"/>
<circle cx="122.0" cy="256.5" r="2.2"/>
<rect x="204.90" y="309.20" width="3.6" height="3.6" fill="#fff" stroke="#000" stroke-width="1.0"/>
<rect x="161.80" y="313.10" width="3.6" height="3.6" fill="#fff" stroke="#000" stroke-width="1.0"/>
<circle cx="158.7" cy="321.0" r="2.2"/>
<rect x="182.40" y="282.20" width="3.6" height="3.6" fill="#fff" stroke="#000" stroke-width="1.0"/>
<circle cx="81.5" cy="298.1" r="2.2"/>
<rect x="169.90" y="299.50" width="3.6" height="3.6" fill="#fff" stroke="#000" stroke-width="1.0"/>
<circle cx="146.5" cy="303.1" r="2.2"/>
<circle cx="178.2" cy="312.1" r="2.2"/>
<rect x="169.40" y="304.80" width="3.6" height="3.6" fill="#fff" stroke="#000" stroke-width="1.0"/>
<circle cx="123.2" cy="294.6" r="2.2"/>
<circle cx="74.4" cy="313.5" r="2.2"/>
<circle cx="99.1" cy="294.1" r="2.2"/>
<circle cx="152.9" cy="323.5" r="2.2"/>
<circle cx="110.7" cy="315.7" r="2.2"/>
<circle cx="160.6" cy="323.8" r="2.2"/>
<circle cx="123.7" cy="328.2" r="2.2"/>
<rect x="155.40" y="315.70" width="3.6" height="3.6" fill="#fff" stroke="#000" stroke-width="1.0"/>
<rect x="204.70" y="291.30" width="3.6" height="3.6" fill="#fff" stroke="#000" stroke-width="1.0"/>
<circle cx="123.7" cy="322.4" r="2.2"/>
<circle cx="115.5" cy="312.3" r="2.2"/>
<circle cx="116.9" cy="322.0" r="2.2"/>
<rect x="166.00" y="326.30" width="3.6" height="3.6" fill="#fff" stroke="#000" stroke-width="1.0"/>
<rect x="169.90" y="316.80" width="3.6" height="3.6" fill="#fff" stroke="#000" stroke-width="1.0"/>
<circle cx="102.5" cy="302.8" r="2.2"/>
<circle cx="126.5" cy="302.3" r="2.2"/>
<rect x="152.40" y="299.50" width="3.6" height="3.6" fill="#fff" stroke="#000" stroke-width="1.0"/>
<circle cx="139.0" cy="294.5" r="2.2"/>
<circle cx="62.5" cy="310.8" r="2.2"/>
<circle cx="171.2" cy="303.7" r="2.2"/>
<rect x="194.50" y="298.60" width="3.6" height="3.6" fill="#fff" stroke="#000" stroke-width="1.0"/>
<rect x="152.40" y="304.40" width="3.6" height="3.6" fill="#fff" stroke="#000" stroke-width="1.0"/>
<rect x="168.90" y="317.10" width="3.6" height="3.6" fill="#fff" stroke="#000" stroke-width="1.0"/>
<rect x="204.90" y="308.90" width="3.6" height="3.6" fill="#fff" stroke="#000" stroke-width="1.0"/>
<rect x="148.80" y="296.90" width="3.6" height="3.6" fill="#fff" stroke="#000" stroke-width="1.0"/>
<rect x="159.40" y="284.60" width="3.6" height="3.6" fill="#fff" stroke="#000" stroke-width="1.0"/>
<circle cx="151.4" cy="322.6" r="2.2"/>
<circle cx="175.0" cy="319.4" r="2.2"/>
<circle cx="117.5" cy="270.3" r="2.2"/>
<circle cx="88.8" cy="320.6" r="2.2"/>
<rect x="194.50" y="307.30" width="3.6" height="3.6" fill="#fff" stroke="#000" stroke-width="1.0"/>
<circle cx="93.4" cy="314.7" r="2.2"/>
<rect x="229.90" y="296.30" width="3.6" height="3.6" fill="#fff" stroke="#000" stroke-width="1.0"/>
<circle cx="142.4" cy="317.8" r="2.2"/>
<rect x="194.50" y="257.30" width="3.6" height="3.6" fill="#fff" stroke="#000" stroke-width="1.0"/>
<rect x="187.10" y="321.00" width="3.6" height="3.6" fill="#fff" stroke="#000" stroke-width="1.0"/>
<circle cx="152.2" cy="318.6" r="2.2"/>
<circle cx="108.3" cy="331.1" r="2.2"/>
<circle cx="113.1" cy="305.2" r="2.2"/>
<rect x="141.50" y="282.20" width="3.6" height="3.6" fill="#fff" stroke="#000" stroke-width="1.0"/>
<rect x="168.90" y="237.00" width="3.6" height="3.6" fill="#fff" stroke="#000" stroke-width="1.0"/>
<rect x="187.10" y="305.70" width="3.6" height="3.6" fill="#fff" stroke="#000" stroke-width="1.0"/>
<circle cx="150.5" cy="310.9" r="2.2"/>
<circle cx="131.3" cy="311.9" r="2.2"/>
<rect x="187.10" y="279.00" width="3.6" height="3.6" fill="#fff" stroke="#000" stroke-width="1.0"/>
<rect x="214.60" y="296.30" width="3.6" height="3.6" fill="#fff" stroke="#000" stroke-width="1.0"/>
<circle cx="130.4" cy="308.1" r="2.2"/>
<rect x="222.50" y="313.60" width="3.6" height="3.6" fill="#fff" stroke="#000" stroke-width="1.0"/>
<circle cx="100.6" cy="300.9" r="2.2"/>
<rect x="164.10" y="307.20" width="3.6" height="3.6" fill="#fff" stroke="#000" stroke-width="1.0"/>
<circle cx="116.9" cy="301.8" r="2.2"/>
<circle cx="99.4" cy="293.7" r="2.2"/>
<rect x="141.50" y="282.50" width="3.6" height="3.6" fill="#fff" stroke="#000" stroke-width="1.0"/>
<circle cx="168.0" cy="297.4" r="2.2"/>
<rect x="162.40" y="288.20" width="3.6" height="3.6" fill="#fff" stroke="#000" stroke-width="1.0"/>
<rect x="209.70" y="317.80" width="3.6" height="3.6" fill="#fff" stroke="#000" stroke-width="1.0"/>
<circle cx="137.1" cy="297.5" r="2.2"/>
<rect x="162.60" y="288.40" width="3.6" height="3.6" fill="#fff" stroke="#000" stroke-width="1.0"/>
<rect x="127.60" y="291.90" width="3.6" height="3.6" fill="#fff" stroke="#000" stroke-width="1.0"/>
<circle cx="166.8" cy="321.8" r="2.2"/>
<rect x="188.60" y="320.70" width="3.6" height="3.6" fill="#fff" stroke="#000" stroke-width="1.0"/>
<rect x="148.70" y="311.90" width="3.6" height="3.6" fill="#fff" stroke="#000" stroke-width="1.0"/>
<rect x="148.70" y="325.80" width="3.6" height="3.6" fill="#fff" stroke="#000" stroke-width="1.0"/>
<rect x="159.30" y="297.50" width="3.6" height="3.6" fill="#fff" stroke="#000" stroke-width="1.0"/>
<circle cx="79.8" cy="303.6" r="2.2"/>
<circle cx="108.4" cy="269.7" r="2.2"/>
<circle cx="78.3" cy="319.2" r="2.2"/>
<circle cx="96.5" cy="299.4" r="2.2"/>
<circle cx="90.5" cy="281.5" r="2.2"/>
<rect x="152.50" y="289.40" width="3.6" height="3.6" fill="#fff" stroke="#000" stroke-width="1.0"/>
<circle cx="113.8" cy="310.0" r="2.2"/>
<rect x="169.90" y="307.20" width="3.6" height="3.6" fill="#fff" stroke="#000" stroke-width="1.0"/>
<rect x="187.20" y="291.30" width="3.6" height="3.6" fill="#fff" stroke="#000" stroke-width="1.0"/>
<rect x="148.60" y="287.00" width="3.6" height="3.6" fill="#fff" stroke="#000" stroke-width="1.0"/>
<circle cx="121.7" cy="313.8" r="2.2"/>
<circle cx="128.5" cy="290.8" r="2.2"/>
<rect x="205.20" y="321.40" width="3.6" height="3.6" fill="#fff" stroke="#000" stroke-width="1.0"/>
<rect x="176.70" y="329.00" width="3.6" height="3.6" fill="#fff" stroke="#000" stroke-width="1.0"/>
<rect x="231.90" y="300.10" width="3.6" height="3.6" fill="#fff" stroke="#000" stroke-width="1.0"/>
<circle cx="152.2" cy="307.2" r="2.2"/>
<circle cx="147.6" cy="332.4" r="2.2"/>
<rect x="184.40" y="281.70" width="3.6" height="3.6" fill="#fff" stroke="#000" stroke-width="1.0"/>
<circle cx="168.5" cy="312.5" r="2.2"/>
<rect x="155.40" y="293.20" width="3.6" height="3.6" fill="#fff" stroke="#000" stroke-width="1.0"/>
<circle cx="129.4" cy="328.7" r="2.2"/>
<circle cx="143.7" cy="301.9" r="2.2"/>
<rect x="187.40" y="285.20" width="3.6" height="3.6" fill="#fff" stroke="#000" stroke-width="1.0"/>
<rect x="195.80" y="313.10" width="3.6" height="3.6" fill="#fff" stroke="#000" stroke-width="1.0"/>
<circle cx="111.5" cy="306.1" r="2.2"/>
<rect x="187.60" y="314.00" width="3.6" height="3.6" fill="#fff" stroke="#000" stroke-width="1.0"/>
<circle cx="99.1" cy="308.1" r="2.2"/>
<circle cx="143.8" cy="324.2" r="2.2"/>
<circle cx="146.5" cy="310.0" r="2.2"/>
<rect x="191.10" y="323.80" width="3.6" height="3.6" fill="#fff" stroke="#000" stroke-width="1.0"/>
<rect x="166.00" y="306.10" width="3.6" height="3.6" fill="#fff" stroke="#000" stroke-width="1.0"/>
<circle cx="117.5" cy="282.9" r="2.2"/>
<circle cx="132.3" cy="311.8" r="2.2"/>
<rect x="187.10" y="300.20" width="3.6" height="3.6" fill="#fff" stroke="#000" stroke-width="1.0"/>
<rect x="177.50" y="305.10" width="3.6" height="3.6" fill="#fff" stroke="#000" stroke-width="1.0"/>
<rect x="180.40" y="296.60" width="3.6" height="3.6" fill="#fff" stroke="#000" stroke-width="1.0"/>
<circle cx="135.2" cy="322.4" r="2.2"/>
<circle cx="99.4" cy="326.3" r="2.2"/>
<circle cx="126.1" cy="317.1" r="2.2"/>
<circle cx="94.3" cy="285.5" r="2.2"/>
<rect x="173.70" y="320.50" width="3.6" height="3.6" fill="#fff" stroke="#000" stroke-width="1.0"/>
<circle cx="107.7" cy="330.8" r="2.2"/>
<circle cx="143.8" cy="309.0" r="2.2"/>
<circle cx="130.1" cy="290.0" r="2.2"/>
<rect x="186.80" y="270.60" width="3.6" height="3.6" fill="#fff" stroke="#000" stroke-width="1.0"/>
<rect x="213.20" y="320.70" width="3.6" height="3.6" fill="#fff" stroke="#000" stroke-width="1.0"/>
<rect x="169.90" y="307.00" width="3.6" height="3.6" fill="#fff" stroke="#000" stroke-width="1.0"/>
<rect x="213.10" y="320.70" width="3.6" height="3.6" fill="#fff" stroke="#000" stroke-width="1.0"/>
<circle cx="101.3" cy="325.4" r="2.2"/>
<circle cx="152.2" cy="315.3" r="2.2"/>
<rect x="176.40" y="313.50" width="3.6" height="3.6" fill="#fff" stroke="#000" stroke-width="1.0"/>
<circle cx="136.6" cy="310.0" r="2.2"/>
<rect x="148.60" y="312.00" width="3.6" height="3.6" fill="#fff" stroke="#000" stroke-width="1.0"/>
<circle cx="123.7" cy="300.9" r="2.2"/>
<circle cx="109.7" cy="285.5" r="2.2"/>
<rect x="176.70" y="267.90" width="3.6" height="3.6" fill="#fff" stroke="#000" stroke-width="1.0"/>
<circle cx="81.5" cy="307.3" r="2.2"/>
<circle cx="118.8" cy="303.8" r="2.2"/>
<rect x="169.50" y="262.80" width="3.6" height="3.6" fill="#fff" stroke="#000" stroke-width="1.0"/>
<rect x="204.90" y="291.10" width="3.6" height="3.6" fill="#fff" stroke="#000" stroke-width="1.0"/>
<circle cx="148.6" cy="322.3" r="2.2"/>
<rect x="154.50" y="312.30" width="3.6" height="3.6" fill="#fff" stroke="#000" stroke-width="1.0"/>
<rect x="214.50" y="296.30" width="3.6" height="3.6" fill="#fff" stroke="#000" stroke-width="1.0"/>
<circle cx="166.8" cy="309.6" r="2.2"/>
<rect x="213.90" y="298.60" width="3.6" height="3.6" fill="#fff" stroke="#000" stroke-width="1.0"/>
<circle cx="155.8" cy="299.8" r="2.2"/>
<circle cx="161.1" cy="307.0" r="2.2"/>
<circle cx="101.3" cy="317.7" r="2.2"/>
<rect x="176.70" y="270.40" width="3.6" height="3.6" fill="#fff" stroke="#000" stroke-width="1.0"/>
<rect x="187.10" y="291.60" width="3.6" height="3.6" fill="#fff" stroke="#000" stroke-width="1.0"/>
<rect x="174.70" y="290.30" width="3.6" height="3.6" fill="#fff" stroke="#000" stroke-width="1.0"/>
<rect x="178.50" y="288.90" width="3.6" height="3.6" fill="#fff" stroke="#000" stroke-width="1.0"/>
<circle cx="129.4" cy="303.8" r="2.2"/>
<rect x="210.70" y="318.30" width="3.6" height="3.6" fill="#fff" stroke="#000" stroke-width="1.0"/>
<circle cx="108.1" cy="326.3" r="2.2"/>
<circle cx="122.7" cy="317.6" r="2.2"/>
<rect x="213.60" y="306.70" width="3.6" height="3.6" fill="#fff" stroke="#000" stroke-width="1.0"/>
<circle cx="108.4" cy="281.9" r="2.2"/>
<circle cx="148.1" cy="321.4" r="2.2"/>
<circle cx="157.7" cy="332.1" r="2.2"/>
<rect x="124.30" y="286.10" width="3.6" height="3.6" fill="#fff" stroke="#000" stroke-width="1.0"/>
<rect x="187.10" y="316.70" width="3.6" height="3.6" fill="#fff" stroke="#000" stroke-width="1.0"/>
<circle cx="161.1" cy="309.2" r="2.2"/>
<circle cx="108.3" cy="326.3" r="2.2"/>
<circle cx="138.5" cy="306.1" r="2.2"/>
<rect x="168.90" y="328.70" width="3.6" height="3.6" fill="#fff" stroke="#000" stroke-width="1.0"/>
<circle cx="168.3" cy="296.1" r="2.2"/>
<circle cx="117.5" cy="247.8" r="2.2"/>
<circle cx="105.1" cy="292.5" r="2.2"/>
<rect x="194.40" y="298.60" width="3.6" height="3.6" fill="#fff" stroke="#000" stroke-width="1.0"/>
<circle cx="140.8" cy="314.9" r="2.2"/>
<circle cx="124.6" cy="310.9" r="2.2"/>
<rect x="162.40" y="244.50" width="3.6" height="3.6" fill="#fff" stroke="#000" stroke-width="1.0"/>
<rect x="176.60" y="298.00" width="3.6" height="3.6" fill="#fff" stroke="#000" stroke-width="1.0"/>
<rect x="155.30" y="298.90" width="3.6" height="3.6" fill="#fff" stroke="#000" stroke-width="1.0"/>
<path d="M62.2 304.2 L161 310" stroke="#000" stroke-width="1.4" fill="none"/>
<text x="272.8" y="199.7" font-size="10.8" font-weight="bold" font-family="'Liberation Sans', sans-serif" stroke="#000" stroke-width="0.18">D</text>
<path d="M309.7 215 V336.5 H510.2" stroke="#000" stroke-width="1.5" fill="none"/>
<path d="M306.3 336.50 H309.7 M306.3 316.25 H309.7 M306.3 296.00 H309.7 M306.3 275.75 H309.7 M306.3 255.50 H309.7 M306.3 235.25 H309.7 M306.3 215.00 H309.7 M309.70 336.5 V339.5 M349.80 336.5 V339.5 M389.90 336.5 V339.5 M430.00 336.5 V339.5 M470.10 336.5 V339.5 M510.21 336.5 V339.5 " stroke="#000" stroke-width="1.3" fill="none"/>
<text x="302.9" y="339.30" font-size="8.2" text-anchor="end" font-family="'Liberation Sans', sans-serif" stroke="#000" stroke-width="0.18" fill="#000">0</text>
<text x="302.9" y="319.05" font-size="8.2" text-anchor="end" font-family="'Liberation Sans', sans-serif" stroke="#000" stroke-width="0.18" fill="#000">50</text>
<text x="302.9" y="298.80" font-size="8.2" text-anchor="end" font-family="'Liberation Sans', sans-serif" stroke="#000" stroke-width="0.18" fill="#000">100</text>
<text x="302.9" y="278.55" font-size="8.2" text-anchor="end" font-family="'Liberation Sans', sans-serif" stroke="#000" stroke-width="0.18" fill="#000">150</text>
<text x="302.9" y="258.30" font-size="8.2" text-anchor="end" font-family="'Liberation Sans', sans-serif" stroke="#000" stroke-width="0.18" fill="#000">200</text>
<text x="302.9" y="238.05" font-size="8.2" text-anchor="end" font-family="'Liberation Sans', sans-serif" stroke="#000" stroke-width="0.18" fill="#000">250</text>
<text x="302.9" y="217.80" font-size="8.2" text-anchor="end" font-family="'Liberation Sans', sans-serif" stroke="#000" stroke-width="0.18" fill="#000">300</text>
<text x="309.70" y="350.70" font-size="8.2" text-anchor="middle" font-family="'Liberation Sans', sans-serif" stroke="#000" stroke-width="0.18" fill="#000">300</text>
<text x="349.80" y="350.70" font-size="8.2" text-anchor="middle" font-family="'Liberation Sans', sans-serif" stroke="#000" stroke-width="0.18" fill="#000">600</text>
<text x="389.90" y="350.70" font-size="8.2" text-anchor="middle" font-family="'Liberation Sans', sans-serif" stroke="#000" stroke-width="0.18" fill="#000">900</text>
<text x="430.00" y="350.70" font-size="8.2" text-anchor="middle" font-family="'Liberation Sans', sans-serif" stroke="#000" stroke-width="0.18" fill="#000">1200</text>
<text x="470.10" y="350.70" font-size="8.2" text-anchor="middle" font-family="'Liberation Sans', sans-serif" stroke="#000" stroke-width="0.18" fill="#000">1500</text>
<text x="510.21" y="350.70" font-size="8.2" text-anchor="middle" font-family="'Liberation Sans', sans-serif" stroke="#000" stroke-width="0.18" fill="#000">1800</text>
<text x="321" y="366.3" font-size="8.9" font-family="'Liberation Sans', sans-serif" stroke="#000" stroke-width="0.18" fill="#000">Total Daily Amount of G-CSF Received (µg/d)</text>
<text transform="translate(279.5 287.2) rotate(-90)" font-size="8.72" text-anchor="middle" font-family="'Liberation Sans', sans-serif" stroke="#000" stroke-width="0.18" fill="#000">After-G-CSF Blood CD34<tspan font-size="5.41" dy="-3.31">+</tspan><tspan dy="3.31"> Count (/µL)</tspan></text>
<path d="M349.5 310 L429 295.4" stroke="#000" stroke-width="1.4" stroke-dasharray="7.6 5.3" fill="none"/>
<rect x="404.00" y="315.10" width="3.6" height="3.6" fill="#fff" stroke="#000" stroke-width="1.0"/>
<rect x="384.10" y="302.80" width="3.6" height="3.6" fill="#fff" stroke="#000" stroke-width="1.0"/>
<rect x="388.00" y="270.30" width="3.6" height="3.6" fill="#fff" stroke="#000" stroke-width="1.0"/>
<rect x="392.30" y="284.40" width="3.6" height="3.6" fill="#fff" stroke="#000" stroke-width="1.0"/>
<circle cx="366.1" cy="319.4" r="2.2"/>
<circle cx="357.8" cy="323.1" r="2.2"/>
<circle cx="373.9" cy="302.0" r="2.2"/>
<rect x="348.20" y="284.80" width="3.6" height="3.6" fill="#fff" stroke="#000" stroke-width="1.0"/>
<circle cx="398.3" cy="311.4" r="2.2"/>
<rect x="428.00" y="298.40" width="3.6" height="3.6" fill="#fff" stroke="#000" stroke-width="1.0"/>
<circle cx="361.5" cy="298" r="2.2"/>
<rect x="396.20" y="301.30" width="3.6" height="3.6" fill="#fff" stroke="#000" stroke-width="1.0"/>
<circle cx="361.8" cy="308.2" r="2.2"/>
<circle cx="374.0" cy="271.5" r="2.2"/>
<circle cx="389.8" cy="295.2" r="2.2"/>
<circle cx="357.3" cy="310.8" r="2.2"/>
<rect x="375.90" y="288.20" width="3.6" height="3.6" fill="#fff" stroke="#000" stroke-width="1.0"/>
<circle cx="349.9" cy="331.0" r="2.2"/>
<circle cx="377.8" cy="312.2" r="2.2"/>
<rect x="404.00" y="309.00" width="3.6" height="3.6" fill="#fff" stroke="#000" stroke-width="1.0"/>
<circle cx="386.0" cy="329.9" r="2.2"/>
<circle cx="369.2" cy="321.2" r="2.2"/>
<circle cx="349.9" cy="297.2" r="2.2"/>
<circle cx="389.9" cy="285.3" r="2.2"/>
<circle cx="361.9" cy="328.2" r="2.2"/>
<rect x="383.80" y="286.20" width="3.6" height="3.6" fill="#fff" stroke="#000" stroke-width="1.0"/>
<rect x="371.80" y="324.10" width="3.6" height="3.6" fill="#fff" stroke="#000" stroke-width="1.0"/>
<rect x="347.70" y="285.30" width="3.6" height="3.6" fill="#fff" stroke="#000" stroke-width="1.0"/>
<circle cx="389.8" cy="305.4" r="2.2"/>
<rect x="400.10" y="245.30" width="3.6" height="3.6" fill="#fff" stroke="#000" stroke-width="1.0"/>
<circle cx="361.5" cy="328.9" r="2.2"/>
<circle cx="389.8" cy="285.0" r="2.2"/>
<rect x="380.00" y="318.30" width="3.6" height="3.6" fill="#fff" stroke="#000" stroke-width="1.0"/>
<rect x="375.90" y="277.70" width="3.6" height="3.6" fill="#fff" stroke="#000" stroke-width="1.0"/>
<circle cx="357.6" cy="333.1" r="2.2"/>
<circle cx="341.9" cy="306.1" r="2.2"/>
<rect x="372.10" y="329.00" width="3.6" height="3.6" fill="#fff" stroke="#000" stroke-width="1.0"/>
<rect x="359.90" y="306.20" width="3.6" height="3.6" fill="#fff" stroke="#000" stroke-width="1.0"/>
<rect x="388.00" y="264.50" width="3.6" height="3.6" fill="#fff" stroke="#000" stroke-width="1.0"/>
<rect x="364.00" y="300.50" width="3.6" height="3.6" fill="#fff" stroke="#000" stroke-width="1.0"/>
<circle cx="374.0" cy="281.4" r="2.2"/>
<circle cx="365.6" cy="319.4" r="2.2"/>
<rect x="375.60" y="302.30" width="3.6" height="3.6" fill="#fff" stroke="#000" stroke-width="1.0"/>
<rect x="376.30" y="282.00" width="3.6" height="3.6" fill="#fff" stroke="#000" stroke-width="1.0"/>
<circle cx="341.3" cy="289.0" r="2.2"/>
<circle cx="381.5" cy="290.0" r="2.2"/>
<circle cx="369.4" cy="320.8" r="2.2"/>
<circle cx="357.8" cy="300.0" r="2.2"/>
<circle cx="389.8" cy="298.6" r="2.2"/>
<rect x="392.00" y="296.70" width="3.6" height="3.6" fill="#fff" stroke="#000" stroke-width="1.0"/>
<rect x="388.00" y="259.40" width="3.6" height="3.6" fill="#fff" stroke="#000" stroke-width="1.0"/>
<circle cx="349.9" cy="315.4" r="2.2"/>
<circle cx="434.2" cy="270.6" r="2.2"/>
<circle cx="397.8" cy="283.6" r="2.2"/>
<circle cx="373.7" cy="320.1" r="2.2"/>
<rect x="383.80" y="311.90" width="3.6" height="3.6" fill="#fff" stroke="#000" stroke-width="1.0"/>
<circle cx="365.3" cy="308.6" r="2.2"/>
<rect x="351.70" y="324.20" width="3.6" height="3.6" fill="#fff" stroke="#000" stroke-width="1.0"/>
<circle cx="377.8" cy="291.4" r="2.2"/>
<rect x="359.50" y="304.80" width="3.6" height="3.6" fill="#fff" stroke="#000" stroke-width="1.0"/>
<circle cx="349.9" cy="307.6" r="2.2"/>
<rect x="379.70" y="289.10" width="3.6" height="3.6" fill="#fff" stroke="#000" stroke-width="1.0"/>
<circle cx="341.3" cy="329.8" r="2.2"/>
<rect x="404.40" y="280.50" width="3.6" height="3.6" fill="#fff" stroke="#000" stroke-width="1.0"/>
<circle cx="373.9" cy="316.4" r="2.2"/>
<circle cx="381.5" cy="328.0" r="2.2"/>
<rect x="379.60" y="324.00" width="3.6" height="3.6" fill="#fff" stroke="#000" stroke-width="1.0"/>
<circle cx="385.7" cy="330.8" r="2.2"/>
<circle cx="397.5" cy="287.3" r="2.2"/>
<circle cx="374.3" cy="307.9" r="2.2"/>
<rect x="379.90" y="244.00" width="3.6" height="3.6" fill="#fff" stroke="#000" stroke-width="1.0"/>
<rect x="356.20" y="291.30" width="3.6" height="3.6" fill="#fff" stroke="#000" stroke-width="1.0"/>
<circle cx="349.9" cy="299.8" r="2.2"/>
<circle cx="365.8" cy="301.2" r="2.2"/>
<circle cx="361.5" cy="332.3" r="2.2"/>
<circle cx="357.3" cy="323.2" r="2.2"/>
<rect x="368.00" y="318.90" width="3.6" height="3.6" fill="#fff" stroke="#000" stroke-width="1.0"/>
<circle cx="357.6" cy="307.7" r="2.2"/>
<rect x="367.90" y="299.10" width="3.6" height="3.6" fill="#fff" stroke="#000" stroke-width="1.0"/>
<circle cx="377.8" cy="310.4" r="2.2"/>
<circle cx="361.6" cy="275.3" r="2.2"/>
<circle cx="373.9" cy="284.0" r="2.2"/>
<circle cx="398.1" cy="304.6" r="2.2"/>
<circle cx="349.8" cy="282.3" r="2.2"/>
<circle cx="385.5" cy="298.1" r="2.2"/>
<rect x="367.50" y="323.00" width="3.6" height="3.6" fill="#fff" stroke="#000" stroke-width="1.0"/>
<rect x="372.20" y="292.20" width="3.6" height="3.6" fill="#fff" stroke="#000" stroke-width="1.0"/>
<circle cx="374.0" cy="327.0" r="2.2"/>
<rect x="360.10" y="327.90" width="3.6" height="3.6" fill="#fff" stroke="#000" stroke-width="1.0"/>
<rect x="412.00" y="305.10" width="3.6" height="3.6" fill="#fff" stroke="#000" stroke-width="1.0"/>
<circle cx="389.5" cy="296.6" r="2.2"/>
<rect x="388.30" y="288.30" width="3.6" height="3.6" fill="#fff" stroke="#000" stroke-width="1.0"/>
<circle cx="381.1" cy="319.7" r="2.2"/>
<rect x="404.00" y="312.40" width="3.6" height="3.6" fill="#fff" stroke="#000" stroke-width="1.0"/>
<circle cx="381.5" cy="283.3" r="2.2"/>
<circle cx="373.9" cy="287.6" r="2.2"/>
<circle cx="381.5" cy="296.6" r="2.2"/>
<circle cx="393.7" cy="294.1" r="2.2"/>
<rect x="367.80" y="310.00" width="3.6" height="3.6" fill="#fff" stroke="#000" stroke-width="1.0"/>
<circle cx="361.2" cy="303.4" r="2.2"/>
<rect x="363.60" y="327.80" width="3.6" height="3.6" fill="#fff" stroke="#000" stroke-width="1.0"/>
<circle cx="389.8" cy="288.4" r="2.2"/>
<circle cx="369.4" cy="306.1" r="2.2"/>
<circle cx="350.0" cy="296.1" r="2.2"/>
<circle cx="378.0" cy="320.8" r="2.2"/>
<circle cx="362.0" cy="300.1" r="2.2"/>
<circle cx="357.8" cy="293.1" r="2.2"/>
<circle cx="373.7" cy="304.5" r="2.2"/>
<rect x="396.30" y="320.40" width="3.6" height="3.6" fill="#fff" stroke="#000" stroke-width="1.0"/>
<circle cx="354.0" cy="318.4" r="2.2"/>
<rect x="391.90" y="265.80" width="3.6" height="3.6" fill="#fff" stroke="#000" stroke-width="1.0"/>
<circle cx="369.8" cy="302.8" r="2.2"/>
<rect x="351.60" y="328.20" width="3.6" height="3.6" fill="#fff" stroke="#000" stroke-width="1.0"/>
<circle cx="390.1" cy="314.1" r="2.2"/>
<circle cx="429.8" cy="316.2" r="2.2"/>
<rect x="391.80" y="312.70" width="3.6" height="3.6" fill="#fff" stroke="#000" stroke-width="1.0"/>
<circle cx="353.4" cy="323.7" r="2.2"/>
<circle cx="369.9" cy="303.1" r="2.2"/>
<rect x="372.10" y="289.40" width="3.6" height="3.6" fill="#fff" stroke="#000" stroke-width="1.0"/>
<circle cx="373.9" cy="323.6" r="2.2"/>
<rect x="392.20" y="265.90" width="3.6" height="3.6" fill="#fff" stroke="#000" stroke-width="1.0"/>
<circle cx="373.7" cy="327.0" r="2.2"/>
<circle cx="389.5" cy="331.6" r="2.2"/>
<circle cx="389.8" cy="329.2" r="2.2"/>
<circle cx="349.9" cy="325.8" r="2.2"/>
<circle cx="357.8" cy="318.9" r="2.2"/>
<circle cx="374.0" cy="290.7" r="2.2"/>
<circle cx="389.8" cy="291.8" r="2.2"/>
<circle cx="377.9" cy="318.1" r="2.2"/>
<circle cx="373.7" cy="299.3" r="2.2"/>
<rect x="396.00" y="298.00" width="3.6" height="3.6" fill="#fff" stroke="#000" stroke-width="1.0"/>
<rect x="359.40" y="304.10" width="3.6" height="3.6" fill="#fff" stroke="#000" stroke-width="1.0"/>
<circle cx="346.1" cy="326.0" r="2.2"/>
<rect x="396.30" y="314.20" width="3.6" height="3.6" fill="#fff" stroke="#000" stroke-width="1.0"/>
<circle cx="397.9" cy="257.1" r="2.2"/>
<circle cx="369.3" cy="322.9" r="2.2"/>
<rect x="372.00" y="328.90" width="3.6" height="3.6" fill="#fff" stroke="#000" stroke-width="1.0"/>
<rect x="391.60" y="320.60" width="3.6" height="3.6" fill="#fff" stroke="#000" stroke-width="1.0"/>
<rect x="415.50" y="306.10" width="3.6" height="3.6" fill="#fff" stroke="#000" stroke-width="1.0"/>
<circle cx="325.6" cy="310.8" r="2.2"/>
<circle cx="385.7" cy="328.3" r="2.2"/>
<circle cx="338.1" cy="311.7" r="2.2"/>
<circle cx="357.8" cy="292.6" r="2.2"/>
<circle cx="349.9" cy="305.0" r="2.2"/>
<circle cx="353.8" cy="328.0" r="2.2"/>
<circle cx="390.2" cy="303.3" r="2.2"/>
<rect x="363.90" y="306.70" width="3.6" height="3.6" fill="#fff" stroke="#000" stroke-width="1.0"/>
<circle cx="369.5" cy="310.0" r="2.2"/>
<rect x="412.00" y="319.50" width="3.6" height="3.6" fill="#fff" stroke="#000" stroke-width="1.0"/>
<circle cx="381.2" cy="283.6" r="2.2"/>
<circle cx="438.1" cy="309.8" r="2.2"/>
<rect x="364.10" y="326.50" width="3.6" height="3.6" fill="#fff" stroke="#000" stroke-width="1.0"/>
<circle cx="369.2" cy="314.3" r="2.2"/>
<rect x="356.10" y="303.90" width="3.6" height="3.6" fill="#fff" stroke="#000" stroke-width="1.0"/>
<circle cx="349.9" cy="312.8" r="2.2"/>
<rect x="359.80" y="278.10" width="3.6" height="3.6" fill="#fff" stroke="#000" stroke-width="1.0"/>
<circle cx="389.8" cy="313.9" r="2.2"/>
<circle cx="365.9" cy="292.6" r="2.2"/>
<rect x="383.60" y="283.30" width="3.6" height="3.6" fill="#fff" stroke="#000" stroke-width="1.0"/>
<circle cx="394.1" cy="313.0" r="2.2"/>
<rect x="355.60" y="304.60" width="3.6" height="3.6" fill="#fff" stroke="#000" stroke-width="1.0"/>
<rect x="371.90" y="285.00" width="3.6" height="3.6" fill="#fff" stroke="#000" stroke-width="1.0"/>
<circle cx="349.9" cy="282.4" r="2.2"/>
<circle cx="393.7" cy="248.1" r="2.2"/>
<circle cx="361.3" cy="327.2" r="2.2"/>
<rect x="364.00" y="309.30" width="3.6" height="3.6" fill="#fff" stroke="#000" stroke-width="1.0"/>
<rect x="388.30" y="321.10" width="3.6" height="3.6" fill="#fff" stroke="#000" stroke-width="1.0"/>
<circle cx="381.3" cy="310.3" r="2.2"/>
<circle cx="394.0" cy="320.9" r="2.2"/>
<rect x="391.50" y="306.70" width="3.6" height="3.6" fill="#fff" stroke="#000" stroke-width="1.0"/>
<circle cx="450.0" cy="257.3" r="2.2"/>
<rect x="363.60" y="310.70" width="3.6" height="3.6" fill="#fff" stroke="#000" stroke-width="1.0"/>
<rect x="388.10" y="269.90" width="3.6" height="3.6" fill="#fff" stroke="#000" stroke-width="1.0"/>
<rect x="359.50" y="324.00" width="3.6" height="3.6" fill="#fff" stroke="#000" stroke-width="1.0"/>
<circle cx="381.3" cy="324.5" r="2.2"/>
<circle cx="389.6" cy="314.0" r="2.2"/>
<circle cx="393.4" cy="325.9" r="2.2"/>
<rect x="372.10" y="293.00" width="3.6" height="3.6" fill="#fff" stroke="#000" stroke-width="1.0"/>
<circle cx="369.3" cy="298.6" r="2.2"/>
<rect x="396.00" y="320.50" width="3.6" height="3.6" fill="#fff" stroke="#000" stroke-width="1.0"/>
<circle cx="365.8" cy="326.6" r="2.2"/>
<circle cx="390.1" cy="290.7" r="2.2"/>
<circle cx="370.4" cy="298.1" r="2.2"/>
<circle cx="337.5" cy="289.0" r="2.2"/>
<circle cx="369.9" cy="305.7" r="2.2"/>
<rect x="383.90" y="311.60" width="3.6" height="3.6" fill="#fff" stroke="#000" stroke-width="1.0"/>
<circle cx="361.5" cy="295.6" r="2.2"/>
<rect x="395.70" y="311.40" width="3.6" height="3.6" fill="#fff" stroke="#000" stroke-width="1.0"/>
<circle cx="353.4" cy="326.2" r="2.2"/>
<rect x="359.70" y="279.00" width="3.6" height="3.6" fill="#fff" stroke="#000" stroke-width="1.0"/>
<circle cx="389.8" cy="255.8" r="2.2"/>
<rect x="376.30" y="288.00" width="3.6" height="3.6" fill="#fff" stroke="#000" stroke-width="1.0"/>
<circle cx="389.9" cy="281.8" r="2.2"/>
<circle cx="349.9" cy="318.0" r="2.2"/>
<circle cx="377.8" cy="316.0" r="2.2"/>
<circle cx="385.6" cy="285.4" r="2.2"/>
<circle cx="389.8" cy="308.8" r="2.2"/>
<rect x="364.00" y="238.20" width="3.6" height="3.6" fill="#fff" stroke="#000" stroke-width="1.0"/>
<circle cx="365.3" cy="303.7" r="2.2"/>
<circle cx="389.8" cy="325.8" r="2.2"/>
<circle cx="361.3" cy="309.7" r="2.2"/>
<circle cx="341.9" cy="298.5" r="2.2"/>
<rect x="412.00" y="240.10" width="3.6" height="3.6" fill="#fff" stroke="#000" stroke-width="1.0"/>
<circle cx="389.4" cy="287.0" r="2.2"/>
<circle cx="381.8" cy="327.9" r="2.2"/>
<rect x="412.00" y="311.90" width="3.6" height="3.6" fill="#fff" stroke="#000" stroke-width="1.0"/>
<circle cx="361.5" cy="275.4" r="2.2"/>
<circle cx="373.9" cy="305.6" r="2.2"/>
<circle cx="349.8" cy="275.0" r="2.2"/>
<circle cx="366.0" cy="307.0" r="2.2"/>
<circle cx="389.9" cy="300.8" r="2.2"/>
<circle cx="389.8" cy="315.6" r="2.2"/>
<circle cx="397.9" cy="283.3" r="2.2"/>
<circle cx="381.9" cy="300.9" r="2.2"/>
<rect x="383.80" y="290.20" width="3.6" height="3.6" fill="#fff" stroke="#000" stroke-width="1.0"/>
<rect x="391.90" y="287.50" width="3.6" height="3.6" fill="#fff" stroke="#000" stroke-width="1.0"/>
<circle cx="389.9" cy="286.6" r="2.2"/>
<rect x="375.70" y="325.90" width="3.6" height="3.6" fill="#fff" stroke="#000" stroke-width="1.0"/>
<circle cx="385.9" cy="323.0" r="2.2"/>
<circle cx="369.4" cy="308.2" r="2.2"/>
<rect x="379.30" y="312.60" width="3.6" height="3.6" fill="#fff" stroke="#000" stroke-width="1.0"/>
<circle cx="369.6" cy="292.5" r="2.2"/>
<rect x="372.20" y="263.60" width="3.6" height="3.6" fill="#fff" stroke="#000" stroke-width="1.0"/>
<circle cx="393.8" cy="325.4" r="2.2"/>
<circle cx="377.8" cy="318.1" r="2.2"/>
<rect x="372.50" y="310.00" width="3.6" height="3.6" fill="#fff" stroke="#000" stroke-width="1.0"/>
<circle cx="385.8" cy="295.2" r="2.2"/>
<circle cx="353.6" cy="295.2" r="2.2"/>
<circle cx="385.4" cy="325.8" r="2.2"/>
<rect x="360.10" y="328.50" width="3.6" height="3.6" fill="#fff" stroke="#000" stroke-width="1.0"/>
<circle cx="373.9" cy="320.0" r="2.2"/>
<circle cx="350.0" cy="292.3" r="2.2"/>
<circle cx="365.9" cy="328.4" r="2.2"/>
<circle cx="397.5" cy="318.9" r="2.2"/>
<rect x="391.60" y="279.40" width="3.6" height="3.6" fill="#fff" stroke="#000" stroke-width="1.0"/>
<rect x="384.00" y="321.80" width="3.6" height="3.6" fill="#fff" stroke="#000" stroke-width="1.0"/>
<circle cx="389.6" cy="323.6" r="2.2"/>
<circle cx="354.0" cy="315.4" r="2.2"/>
<rect x="364.00" y="248.80" width="3.6" height="3.6" fill="#fff" stroke="#000" stroke-width="1.0"/>
<circle cx="345.7" cy="329.8" r="2.2"/>
<circle cx="333.7" cy="322.2" r="2.2"/>
<circle cx="389.8" cy="312.2" r="2.2"/>
<circle cx="373.6" cy="332.2" r="2.2"/>
<rect x="396.30" y="315.80" width="3.6" height="3.6" fill="#fff" stroke="#000" stroke-width="1.0"/>
<circle cx="385.5" cy="311.5" r="2.2"/>
<rect x="396.10" y="237.60" width="3.6" height="3.6" fill="#fff" stroke="#000" stroke-width="1.0"/>
<circle cx="385.7" cy="314.8" r="2.2"/>
<rect x="396.20" y="286.30" width="3.6" height="3.6" fill="#fff" stroke="#000" stroke-width="1.0"/>
<rect x="367.90" y="298.80" width="3.6" height="3.6" fill="#fff" stroke="#000" stroke-width="1.0"/>
<rect x="372.10" y="307.40" width="3.6" height="3.6" fill="#fff" stroke="#000" stroke-width="1.0"/>
<rect x="412.00" y="302.20" width="3.6" height="3.6" fill="#fff" stroke="#000" stroke-width="1.0"/>
<rect x="375.90" y="278.40" width="3.6" height="3.6" fill="#fff" stroke="#000" stroke-width="1.0"/>
<circle cx="429.8" cy="294.8" r="2.2"/>
<circle cx="381.3" cy="317.0" r="2.2"/>
<circle cx="354.1" cy="304.1" r="2.2"/>
<rect x="392.20" y="326.60" width="3.6" height="3.6" fill="#fff" stroke="#000" stroke-width="1.0"/>
<circle cx="378.0" cy="290.0" r="2.2"/>
<rect x="364.00" y="309.70" width="3.6" height="3.6" fill="#fff" stroke="#000" stroke-width="1.0"/>
<rect x="391.80" y="321.70" width="3.6" height="3.6" fill="#fff" stroke="#000" stroke-width="1.0"/>
<circle cx="357.7" cy="306.9" r="2.2"/>
<circle cx="345.7" cy="322.2" r="2.2"/>
<rect x="356.10" y="322.30" width="3.6" height="3.6" fill="#fff" stroke="#000" stroke-width="1.0"/>
<circle cx="398.1" cy="296.3" r="2.2"/>
<rect x="351.70" y="313.40" width="3.6" height="3.6" fill="#fff" stroke="#000" stroke-width="1.0"/>
<circle cx="365.9" cy="293.1" r="2.2"/>
<circle cx="357.9" cy="320.7" r="2.2"/>
<circle cx="353.7" cy="296.3" r="2.2"/>
<circle cx="353.5" cy="306.9" r="2.2"/>
<circle cx="349.9" cy="320.6" r="2.2"/>
<circle cx="385.3" cy="289.8" r="2.2"/>
<circle cx="332.8" cy="319.3" r="2.2"/>
<circle cx="365.6" cy="315.5" r="2.2"/>
<rect x="391.70" y="308.70" width="3.6" height="3.6" fill="#fff" stroke="#000" stroke-width="1.0"/>
<circle cx="385.8" cy="321.0" r="2.2"/>
<rect x="351.70" y="329.90" width="3.6" height="3.6" fill="#fff" stroke="#000" stroke-width="1.0"/>
<circle cx="333.7" cy="303.2" r="2.2"/>
<circle cx="354.1" cy="296.7" r="2.2"/>
<rect x="384.20" y="329.70" width="3.6" height="3.6" fill="#fff" stroke="#000" stroke-width="1.0"/>
<circle cx="393.7" cy="292.2" r="2.2"/>
<circle cx="397.9" cy="270.2" r="2.2"/>
<rect x="355.70" y="292.60" width="3.6" height="3.6" fill="#fff" stroke="#000" stroke-width="1.0"/>
<rect x="395.80" y="316.40" width="3.6" height="3.6" fill="#fff" stroke="#000" stroke-width="1.0"/>
<circle cx="377.3" cy="283.4" r="2.2"/>
<circle cx="385.4" cy="303.8" r="2.2"/>
<circle cx="354.1" cy="294.8" r="2.2"/>
<circle cx="349.9" cy="328.4" r="2.2"/>
<rect x="428.00" y="279.40" width="3.6" height="3.6" fill="#fff" stroke="#000" stroke-width="1.0"/>
<rect x="364.30" y="316.10" width="3.6" height="3.6" fill="#fff" stroke="#000" stroke-width="1.0"/>
<rect x="351.70" y="326.90" width="3.6" height="3.6" fill="#fff" stroke="#000" stroke-width="1.0"/>
<rect x="404.00" y="303.20" width="3.6" height="3.6" fill="#fff" stroke="#000" stroke-width="1.0"/>
<circle cx="389.8" cy="319.0" r="2.2"/>
<rect x="363.80" y="302.80" width="3.6" height="3.6" fill="#fff" stroke="#000" stroke-width="1.0"/>
<circle cx="365.3" cy="313.6" r="2.2"/>
<circle cx="397.9" cy="295.6" r="2.2"/>
<circle cx="397.6" cy="314.4" r="2.2"/>
<circle cx="361.2" cy="308.4" r="2.2"/>
<circle cx="369.8" cy="318.9" r="2.2"/>
<circle cx="349.9" cy="310.2" r="2.2"/>
<circle cx="470.2" cy="299.6" r="2.2"/>
<circle cx="374.0" cy="281.3" r="2.2"/>
<rect x="351.90" y="297.10" width="3.6" height="3.6" fill="#fff" stroke="#000" stroke-width="1.0"/>
<circle cx="357.6" cy="321.6" r="2.2"/>
<rect x="372.10" y="325.40" width="3.6" height="3.6" fill="#fff" stroke="#000" stroke-width="1.0"/>
<rect x="383.50" y="300.30" width="3.6" height="3.6" fill="#fff" stroke="#000" stroke-width="1.0"/>
<circle cx="361.8" cy="295.8" r="2.2"/>
<circle cx="349.9" cy="302.4" r="2.2"/>
<circle cx="353.8" cy="316.1" r="2.2"/>
<circle cx="349.9" cy="294.6" r="2.2"/>
<rect x="372.10" y="311.00" width="3.6" height="3.6" fill="#fff" stroke="#000" stroke-width="1.0"/>
<circle cx="369.5" cy="321.9" r="2.2"/>
<rect x="375.90" y="326.70" width="3.6" height="3.6" fill="#fff" stroke="#000" stroke-width="1.0"/>
<circle cx="381.2" cy="298.2" r="2.2"/>
<circle cx="377.5" cy="304.1" r="2.2"/>
<circle cx="354.0" cy="300.9" r="2.2"/>
<circle cx="361.5" cy="324.4" r="2.2"/>
<circle cx="361.6" cy="294.9" r="2.2"/>
<rect x="428.00" y="302.80" width="3.6" height="3.6" fill="#fff" stroke="#000" stroke-width="1.0"/>
<circle cx="357.6" cy="322.8" r="2.2"/>
<rect x="348.10" y="285.10" width="3.6" height="3.6" fill="#fff" stroke="#000" stroke-width="1.0"/>
<circle cx="361.3" cy="333.9" r="2.2"/>
<circle cx="361.9" cy="297.7" r="2.2"/>
<circle cx="365.6" cy="302.1" r="2.2"/>
<circle cx="389.4" cy="289.2" r="2.2"/>
<circle cx="349.9" cy="323.2" r="2.2"/>
<rect x="383.50" y="311.20" width="3.6" height="3.6" fill="#fff" stroke="#000" stroke-width="1.0"/>
<rect x="371.90" y="327.60" width="3.6" height="3.6" fill="#fff" stroke="#000" stroke-width="1.0"/>
<rect x="396.40" y="283.20" width="3.6" height="3.6" fill="#fff" stroke="#000" stroke-width="1.0"/>
<rect x="367.40" y="327.70" width="3.6" height="3.6" fill="#fff" stroke="#000" stroke-width="1.0"/>
<circle cx="389.8" cy="309.3" r="2.2"/>
<circle cx="361.4" cy="309.9" r="2.2"/>
<circle cx="361.7" cy="331.5" r="2.2"/>
<circle cx="389.8" cy="302.0" r="2.2"/>
<circle cx="381.1" cy="296.2" r="2.2"/>
<rect x="408.20" y="280.90" width="3.6" height="3.6" fill="#fff" stroke="#000" stroke-width="1.0"/>
<rect x="364.00" y="317.50" width="3.6" height="3.6" fill="#fff" stroke="#000" stroke-width="1.0"/>
<circle cx="401.0" cy="299.2" r="2.2"/>
<rect x="379.50" y="327.60" width="3.6" height="3.6" fill="#fff" stroke="#000" stroke-width="1.0"/>
<rect x="372.20" y="284.80" width="3.6" height="3.6" fill="#fff" stroke="#000" stroke-width="1.0"/>
<circle cx="369.8" cy="312.2" r="2.2"/>
<circle cx="349.9" cy="292.0" r="2.2"/>
<rect x="359.70" y="320.10" width="3.6" height="3.6" fill="#fff" stroke="#000" stroke-width="1.0"/>
<rect x="412.00" y="308.60" width="3.6" height="3.6" fill="#fff" stroke="#000" stroke-width="1.0"/>
<rect x="383.80" y="281.40" width="3.6" height="3.6" fill="#fff" stroke="#000" stroke-width="1.0"/>
<rect x="391.50" y="296.10" width="3.6" height="3.6" fill="#fff" stroke="#000" stroke-width="1.0"/>
<circle cx="377.9" cy="307.3" r="2.2"/>
<circle cx="398.0" cy="299.6" r="2.2"/>
<circle cx="333.7" cy="309.5" r="2.2"/>
<circle cx="373.8" cy="327.6" r="2.2"/>
<circle cx="349.5" cy="274.7" r="2.2"/>
<circle cx="389.8" cy="322.4" r="2.2"/>
<circle cx="393.4" cy="325.0" r="2.2"/>
<circle cx="337.5" cy="329.8" r="2.2"/>
<rect x="379.30" y="289.40" width="3.6" height="3.6" fill="#fff" stroke="#000" stroke-width="1.0"/>
<rect x="384.20" y="280.50" width="3.6" height="3.6" fill="#fff" stroke="#000" stroke-width="1.0"/>
<circle cx="369.4" cy="313.1" r="2.2"/>
<rect x="392.20" y="279.40" width="3.6" height="3.6" fill="#fff" stroke="#000" stroke-width="1.0"/>
<circle cx="398.2" cy="321.2" r="2.2"/>
<circle cx="361.7" cy="325.7" r="2.2"/>
<rect x="352.20" y="320.70" width="3.6" height="3.6" fill="#fff" stroke="#000" stroke-width="1.0"/>
<rect x="404.00" y="280.90" width="3.6" height="3.6" fill="#fff" stroke="#000" stroke-width="1.0"/>
<circle cx="373.9" cy="298.4" r="2.2"/>
<circle cx="374.2" cy="330.2" r="2.2"/>
<rect x="379.60" y="309.90" width="3.6" height="3.6" fill="#fff" stroke="#000" stroke-width="1.0"/>
<circle cx="365.3" cy="324.3" r="2.2"/>
<circle cx="341.9" cy="299.4" r="2.2"/>
<circle cx="374.0" cy="319.5" r="2.2"/>
<rect x="412.00" y="270.30" width="3.6" height="3.6" fill="#fff" stroke="#000" stroke-width="1.0"/>
<rect x="360.20" y="329.90" width="3.6" height="3.6" fill="#fff" stroke="#000" stroke-width="1.0"/>
<circle cx="397.8" cy="320.6" r="2.2"/>
<rect x="408.20" y="302.20" width="3.6" height="3.6" fill="#fff" stroke="#000" stroke-width="1.0"/>
<rect x="372.00" y="287.30" width="3.6" height="3.6" fill="#fff" stroke="#000" stroke-width="1.0"/>
<circle cx="434.2" cy="277.9" r="2.2"/>
<circle cx="353.5" cy="321.9" r="2.2"/>
<rect x="359.60" y="310.00" width="3.6" height="3.6" fill="#fff" stroke="#000" stroke-width="1.0"/>
<rect x="420.30" y="300.90" width="3.6" height="3.6" fill="#fff" stroke="#000" stroke-width="1.0"/>
<rect x="360.00" y="276.70" width="3.6" height="3.6" fill="#fff" stroke="#000" stroke-width="1.0"/>
<circle cx="353.9" cy="313.5" r="2.2"/>
<circle cx="365.5" cy="298.4" r="2.2"/>
<rect x="412.00" y="257.40" width="3.6" height="3.6" fill="#fff" stroke="#000" stroke-width="1.0"/>
<circle cx="358.1" cy="307.1" r="2.2"/>
<rect x="384.20" y="289.80" width="3.6" height="3.6" fill="#fff" stroke="#000" stroke-width="1.0"/>
<circle cx="401.9" cy="303.5" r="2.2"/>
<circle cx="381.8" cy="314.3" r="2.2"/>
<rect x="416.50" y="286.90" width="3.6" height="3.6" fill="#fff" stroke="#000" stroke-width="1.0"/>
<circle cx="389.8" cy="281.7" r="2.2"/>
<rect x="379.90" y="300.20" width="3.6" height="3.6" fill="#fff" stroke="#000" stroke-width="1.0"/>
<circle cx="369.1" cy="313.4" r="2.2"/>
<rect x="388.10" y="265.10" width="3.6" height="3.6" fill="#fff" stroke="#000" stroke-width="1.0"/>
<circle cx="398.0" cy="291.3" r="2.2"/>
<path d="M325.6 319 L470 279.5" stroke="#000" stroke-width="1.4" fill="none"/>
</svg>
</body></html>
